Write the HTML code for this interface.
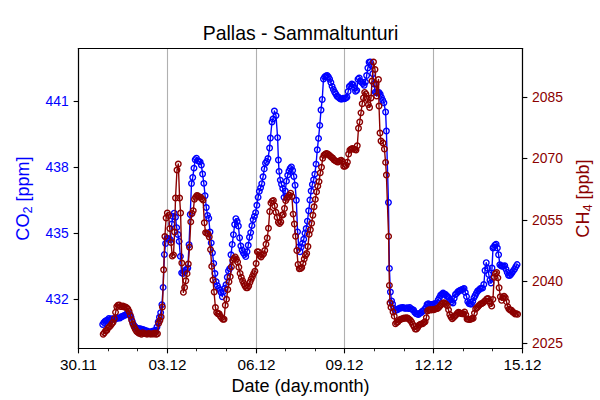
<!DOCTYPE html>
<html><head><meta charset="utf-8"><title>Pallas - Sammaltunturi</title>
<style>html,body{margin:0;padding:0;background:#fff;font-family:"Liberation Sans",sans-serif;}svg{display:block;}</style>
</head><body>
<svg width="600" height="400" viewBox="0 0 432 288">
 <defs>
  <style type="text/css">*{stroke-linejoin: round; stroke-linecap: butt}</style>
 </defs>
 <g id="figure_1">
  <g id="patch_1">
   <path d="M 0 288 
L 432 288 
L 432 0 
L 0 0 
z
" style="fill: #ffffff"/>
  </g>
  <g id="axes_1">
   <g id="patch_2">
    <path d="M 56.52 250.92 
L 376.2 250.92 
L 376.2 34.92 
L 56.52 34.92 
z
" style="fill: #ffffff"/>
   </g>
   <g id="matplotlib.axis_1">
    <g id="xtick_1">
     <g id="line2d_1">
      <path d="M 56.52 250.92 
L 56.52 34.92 
" clip-path="url(#p01f3dd01d7)" style="fill: none; stroke: #b0b0b0; stroke-width: 0.8; stroke-linecap: square"/>
     </g>
     <g id="line2d_2">
      <defs>
       <path id="m1504cfccaf" d="M 0 0 
L 0 3.5 
" style="stroke: #000000; stroke-width: 0.8"/>
      </defs>
      <g>
       <use href="#m1504cfccaf" x="56.52" y="250.92" style="stroke: #000000; stroke-width: 0.8"/>
      </g>
     </g>
     <g id="text_1">
      <!-- 30.11 -->
      <text x="56.52" y="266.28" font-size="11" text-anchor="middle" fill="#000000" style="font-family: 'Liberation Sans', sans-serif">30.11</text>
     </g>
    </g>
    <g id="xtick_2">
     <g id="line2d_3">
      <path d="M 120.6 250.92 
L 120.6 34.92 
" clip-path="url(#p01f3dd01d7)" style="fill: none; stroke: #b0b0b0; stroke-width: 0.8; stroke-linecap: square"/>
     </g>
     <g id="line2d_4">
      <g>
       <use href="#m1504cfccaf" x="120.6" y="250.92" style="stroke: #000000; stroke-width: 0.8"/>
      </g>
     </g>
     <g id="text_2">
      <!-- 03.12 -->
      <text x="120.6" y="266.28" font-size="11" text-anchor="middle" fill="#000000" style="font-family: 'Liberation Sans', sans-serif">03.12</text>
     </g>
    </g>
    <g id="xtick_3">
     <g id="line2d_5">
      <path d="M 184.68 250.92 
L 184.68 34.92 
" clip-path="url(#p01f3dd01d7)" style="fill: none; stroke: #b0b0b0; stroke-width: 0.8; stroke-linecap: square"/>
     </g>
     <g id="line2d_6">
      <g>
       <use href="#m1504cfccaf" x="184.68" y="250.92" style="stroke: #000000; stroke-width: 0.8"/>
      </g>
     </g>
     <g id="text_3">
      <!-- 06.12 -->
      <text x="184.68" y="266.28" font-size="11" text-anchor="middle" fill="#000000" style="font-family: 'Liberation Sans', sans-serif">06.12</text>
     </g>
    </g>
    <g id="xtick_4">
     <g id="line2d_7">
      <path d="M 248.04 250.92 
L 248.04 34.92 
" clip-path="url(#p01f3dd01d7)" style="fill: none; stroke: #b0b0b0; stroke-width: 0.8; stroke-linecap: square"/>
     </g>
     <g id="line2d_8">
      <g>
       <use href="#m1504cfccaf" x="248.04" y="250.92" style="stroke: #000000; stroke-width: 0.8"/>
      </g>
     </g>
     <g id="text_4">
      <!-- 09.12 -->
      <text x="248.04" y="266.28" font-size="11" text-anchor="middle" fill="#000000" style="font-family: 'Liberation Sans', sans-serif">09.12</text>
     </g>
    </g>
    <g id="xtick_5">
     <g id="line2d_9">
      <path d="M 312.12 250.92 
L 312.12 34.92 
" clip-path="url(#p01f3dd01d7)" style="fill: none; stroke: #b0b0b0; stroke-width: 0.8; stroke-linecap: square"/>
     </g>
     <g id="line2d_10">
      <g>
       <use href="#m1504cfccaf" x="312.12" y="250.92" style="stroke: #000000; stroke-width: 0.8"/>
      </g>
     </g>
     <g id="text_5">
      <!-- 12.12 -->
      <text x="312.12" y="266.28" font-size="11" text-anchor="middle" fill="#000000" style="font-family: 'Liberation Sans', sans-serif">12.12</text>
     </g>
    </g>
    <g id="xtick_6">
     <g id="line2d_11">
      <path d="M 376.2 250.92 
L 376.2 34.92 
" clip-path="url(#p01f3dd01d7)" style="fill: none; stroke: #b0b0b0; stroke-width: 0.8; stroke-linecap: square"/>
     </g>
     <g id="line2d_12">
      <g>
       <use href="#m1504cfccaf" x="376.2" y="250.92" style="stroke: #000000; stroke-width: 0.8"/>
      </g>
     </g>
     <g id="text_6">
      <!-- 15.12 -->
      <text x="376.2" y="266.28" font-size="11" text-anchor="middle" fill="#000000" style="font-family: 'Liberation Sans', sans-serif">15.12</text>
     </g>
    </g>
    <g id="xtick_7">
     <g id="line2d_13">
      <defs>
       <path id="m05db3bdf9b" d="M 0 0 
L 0 2 
" style="stroke: #000000; stroke-width: 0.6"/>
      </defs>
      <g>
       <use href="#m05db3bdf9b" x="78.12" y="250.92" style="stroke: #000000; stroke-width: 0.6"/>
      </g>
     </g>
    </g>
    <g id="xtick_8">
     <g id="line2d_14">
      <g>
       <use href="#m05db3bdf9b" x="99" y="250.92" style="stroke: #000000; stroke-width: 0.6"/>
      </g>
     </g>
    </g>
    <g id="xtick_9">
     <g id="line2d_15">
      <g>
       <use href="#m05db3bdf9b" x="141.48" y="250.92" style="stroke: #000000; stroke-width: 0.6"/>
      </g>
     </g>
    </g>
    <g id="xtick_10">
     <g id="line2d_16">
      <g>
       <use href="#m05db3bdf9b" x="163.08" y="250.92" style="stroke: #000000; stroke-width: 0.6"/>
      </g>
     </g>
    </g>
    <g id="xtick_11">
     <g id="line2d_17">
      <g>
       <use href="#m05db3bdf9b" x="205.56" y="250.92" style="stroke: #000000; stroke-width: 0.6"/>
      </g>
     </g>
    </g>
    <g id="xtick_12">
     <g id="line2d_18">
      <g>
       <use href="#m05db3bdf9b" x="227.16" y="250.92" style="stroke: #000000; stroke-width: 0.6"/>
      </g>
     </g>
    </g>
    <g id="xtick_13">
     <g id="line2d_19">
      <g>
       <use href="#m05db3bdf9b" x="269.64" y="250.92" style="stroke: #000000; stroke-width: 0.6"/>
      </g>
     </g>
    </g>
    <g id="xtick_14">
     <g id="line2d_20">
      <g>
       <use href="#m05db3bdf9b" x="291.24" y="250.92" style="stroke: #000000; stroke-width: 0.6"/>
      </g>
     </g>
    </g>
    <g id="xtick_15">
     <g id="line2d_21">
      <g>
       <use href="#m05db3bdf9b" x="333.72" y="250.92" style="stroke: #000000; stroke-width: 0.6"/>
      </g>
     </g>
    </g>
    <g id="xtick_16">
     <g id="line2d_22">
      <g>
       <use href="#m05db3bdf9b" x="354.6" y="250.92" style="stroke: #000000; stroke-width: 0.6"/>
      </g>
     </g>
    </g>
    <g id="text_7">
     <!-- Date (day.month) -->
     <text x="216.36" y="282.44" font-size="13" text-anchor="middle" fill="#000000" style="font-family: 'Liberation Sans', sans-serif">Date (day.month)</text>
    </g>
   </g>
   <g id="matplotlib.axis_2">
    <g id="ytick_1">
     <g id="line2d_23">
      <defs>
       <path id="m5d545ce8f8" d="M 0 0 
L -3.5 0 
" style="stroke: #000000; stroke-width: 0.8"/>
      </defs>
      <g>
       <use href="#m5d545ce8f8" x="56.52" y="73.08" style="stroke: #000000; stroke-width: 0.8"/>
      </g>
     </g>
     <g id="text_8">
      <!-- 441 -->
      <text x="49.5" y="76.38" font-size="10" text-anchor="end" fill="#0000ff" style="font-family: 'Liberation Sans', sans-serif">441</text>
     </g>
    </g>
    <g id="ytick_2">
     <g id="line2d_24">
      <g>
       <use href="#m5d545ce8f8" x="56.52" y="120.6" style="stroke: #000000; stroke-width: 0.8"/>
      </g>
     </g>
     <g id="text_9">
      <!-- 438 -->
      <text x="49.5" y="123.9" font-size="10" text-anchor="end" fill="#0000ff" style="font-family: 'Liberation Sans', sans-serif">438</text>
     </g>
    </g>
    <g id="ytick_3">
     <g id="line2d_25">
      <g>
       <use href="#m5d545ce8f8" x="56.52" y="168.12" style="stroke: #000000; stroke-width: 0.8"/>
      </g>
     </g>
     <g id="text_10">
      <!-- 435 -->
      <text x="49.5" y="171.42" font-size="10" text-anchor="end" fill="#0000ff" style="font-family: 'Liberation Sans', sans-serif">435</text>
     </g>
    </g>
    <g id="ytick_4">
     <g id="line2d_26">
      <g>
       <use href="#m5d545ce8f8" x="56.52" y="215.64" style="stroke: #000000; stroke-width: 0.8"/>
      </g>
     </g>
     <g id="text_11">
      <!-- 432 -->
      <text x="49.5" y="218.94" font-size="10" text-anchor="end" fill="#0000ff" style="font-family: 'Liberation Sans', sans-serif">432</text>
     </g>
    </g>
    <g id="text_12">
     <!-- CO$_2$ [ppm] -->
     <text transform="translate(21.18 142.92) rotate(-90)" font-size="13" text-anchor="middle" fill="#0000ff" style="font-family: 'Liberation Sans', sans-serif">CO<tspan font-size="9.1" dy="2.1">2</tspan><tspan dy="-2.1"> [ppm]</tspan></text>
    </g>
   </g>
   <g id="line2d_27">
    <path d="M 73.944 233.588679 
L 74.832 232.197612 
L 75.72 231.303568 
L 76.608 230.669792 
L 77.496 230.575798 
L 78.384 229.353021 
L 79.272 230.213991 
L 80.16 229.551011 
L 81.048 229.774244 
L 81.936 229.547198 
L 82.824 229.852134 
L 83.712 228.890279 
L 84.6 229.141307 
L 85.488 228.874288 
L 86.376 228.968298 
L 87.264 228.098991 
L 88.152 227.850858 
L 89.04 227.242857 
L 89.928 226.989841 
L 90.816 226.511313 
L 91.704 225.540983 
L 92.592 225.854555 
L 93.48 226.42544 
L 94.368 228.501899 
L 95.256 231.485896 
L 96.144 233.758776 
L 97.032 235.027683 
L 97.92 235.969443 
L 99.696 236.875734 
L 100.584 236.763629 
L 102.36 237.169814 
L 104.136 237.813094 
L 105.024 238.282521 
L 105.912 238.256516 
L 107.688 239.367609 
L 108.576 239.105248 
L 110.352 238.358579 
L 111.24 238.235039 
L 112.128 237.671823 
L 113.016 235.41536 
L 115.68 225.08933 
L 116.568 219.391504 
L 117.456 206.933919 
L 118.344 183.307961 
L 119.232 175.361757 
L 120.12 171.661859 
L 121.008 171.660853 
L 122.784 172.683784 
L 123.672 161.262915 
L 124.56 155.861125 
L 125.448 153.458075 
L 126.336 156.368049 
L 127.224 163.906621 
L 129 173.795063 
L 130.776 196.455886 
L 131.664 196.943556 
L 133.44 194.532482 
L 134.328 194.106971 
L 135.216 192.96677 
L 136.104 176.171582 
L 137.88 132.127297 
L 138.768 127.756852 
L 140.544 114.967827 
L 141.432 113.88485 
L 142.32 115.655146 
L 143.208 116.186116 
L 144.096 116.562864 
L 144.984 118.880398 
L 146.76 132.012933 
L 148.536 149.390733 
L 149.424 155.052862 
L 150.312 157.204167 
L 151.2 167.063944 
L 153.864 189.661792 
L 154.752 196.910429 
L 155.64 202.762171 
L 156.528 205.686712 
L 157.416 207.620972 
L 159.192 210.623164 
L 160.08 213.609939 
L 160.968 209.971936 
L 162.744 205.007467 
L 163.632 199.65121 
L 164.52 195.169698 
L 165.408 193.394478 
L 166.296 183.427026 
L 168.96 161.677649 
L 169.848 157.458453 
L 170.736 159.537115 
L 171.624 162.747631 
L 172.512 171.239373 
L 173.4 177.145293 
L 174.288 179.97652 
L 175.176 181.928353 
L 176.064 183.234439 
L 176.952 184.780726 
L 177.84 181.270392 
L 178.728 176.597147 
L 179.616 170.860869 
L 180.504 167.487416 
L 181.392 162.452392 
L 182.28 158.261986 
L 184.056 153.099028 
L 185.832 142.086044 
L 186.72 137.786845 
L 187.608 135.264355 
L 188.496 132.263233 
L 189.384 127.293966 
L 190.272 121.609778 
L 191.16 117.594202 
L 192.048 116.331994 
L 192.936 114.169005 
L 194.112 106.56 
L 194.688 99.36 
L 195.84 87.84 
L 196.56 85.68 
L 197.568 79.92 
L 198.72 83.232 
L 199.872 99.072 
L 200.448 115.2 
L 200.928 123.395236 
L 201.816 129.679138 
L 203.592 135.747581 
L 204.48 142.103684 
L 205.368 137.547764 
L 206.256 130.413131 
L 207.144 126.107497 
L 208.032 123.265649 
L 208.92 121.358631 
L 209.808 120.191247 
L 210.696 122.730354 
L 211.584 127.108704 
L 212.472 133.335148 
L 213.36 144.187506 
L 214.248 166.944654 
L 215.136 177.901649 
L 216.024 181.22048 
L 216.912 177.897013 
L 218.688 172.286515 
L 219.576 167.933847 
L 220.464 164.502204 
L 221.352 159.232973 
L 224.016 137.497124 
L 224.904 132.796378 
L 225.792 129.410714 
L 226.68 125.381457 
L 227.568 118.184028 
L 228.456 107.858663 
L 229.344 99.644345 
L 230.232 90.2769 
L 231.12 79.182544 
L 232.008 71.603884 
L 232.896 56.824955 
L 233.784 55.38477 
L 234.672 54.663372 
L 235.56 54.271134 
L 236.448 55.418889 
L 237.336 57.033833 
L 238.224 59.388043 
L 239.112 62.177967 
L 240.888 66.245119 
L 241.776 67.667687 
L 242.664 69.353196 
L 243.552 69.88001 
L 244.44 70.861816 
L 245.328 71.385514 
L 246.216 71.357579 
L 247.104 70.686709 
L 247.992 71.110485 
L 248.88 70.649609 
L 249.768 70.006855 
L 250.656 65.87595 
L 251.544 62.317322 
L 252.432 61.64773 
L 253.32 60.47427 
L 254.208 61.072918 
L 255.096 63.158837 
L 255.984 65.695937 
L 256.872 65.066134 
L 257.76 57.014972 
L 258.648 56.154463 
L 259.536 58.460524 
L 261.312 60.138693 
L 262.2 61.416859 
L 263.088 59.025638 
L 263.976 54.413879 
L 264.864 48.929777 
L 265.752 44.841623 
L 266.64 44.601723 
L 267.528 47.438783 
L 268.416 53.074162 
L 269.304 60.450068 
L 270.192 66.340631 
L 271.08 66.826584 
L 272.856 66.539462 
L 273.744 67.803172 
L 275.52 72.12956 
L 276.408 73.926476 
L 277.632 80.64 
L 278.208 94.32 
L 279.684 145.764 
L 280.368 193.248 
L 281.088 210.24 
L 281.952 216.72 
L 283.512 221.85334 
L 284.4 223.78376 
L 285.288 223.02966 
L 286.176 223.030593 
L 287.064 222.215202 
L 287.952 221.717222 
L 288.84 221.759526 
L 289.728 221.408052 
L 290.616 221.542948 
L 291.504 221.930027 
L 292.392 221.915872 
L 293.28 221.648321 
L 294.168 222.216255 
L 295.056 221.4593 
L 296.832 222.936513 
L 297.72 223.09365 
L 298.608 224.919985 
L 299.496 225.68924 
L 300.384 226.187897 
L 301.272 226.416762 
L 302.16 225.631505 
L 303.048 225.128872 
L 303.936 224.262852 
L 304.824 223.743852 
L 305.712 222.777977 
L 306.6 221.577961 
L 307.488 219.235725 
L 308.376 218.716406 
L 309.264 219.217289 
L 311.04 219.214475 
L 311.928 219.106159 
L 312.816 218.758583 
L 313.704 218.679864 
L 314.592 218.106494 
L 315.48 216.027575 
L 317.256 212.634743 
L 319.032 210.996367 
L 319.92 211.835611 
L 320.808 212.03631 
L 321.696 213.247185 
L 322.584 213.720739 
L 326.136 218.142143 
L 327.024 214.730328 
L 327.912 212.090616 
L 328.8 211.234347 
L 329.688 210.094218 
L 331.464 208.987115 
L 334.128 207.741773 
L 335.904 213.540567 
L 336.792 217.185944 
L 337.68 218.547599 
L 338.568 218.915041 
L 339.456 218.921109 
L 340.344 217.050222 
L 341.232 214.447682 
L 343.896 209.573002 
L 344.784 208.912983 
L 345.672 207.848889 
L 346.56 207.462446 
L 347.448 207.458265 
L 348.336 204.847979 
L 349.224 194.714241 
L 350.112 189.128842 
L 351.888 197.585514 
L 352.776 201.738343 
L 353.52 203.76 
L 354.24 192.96 
L 354.96 178.56 
L 356.328 176.59849 
L 357.216 175.802369 
L 358.104 178.61687 
L 358.992 183.38936 
L 359.88 190.590156 
L 360.768 191.340871 
L 361.656 191.676513 
L 362.544 191.760943 
L 363.432 191.389678 
L 365.208 196.141172 
L 366.096 198.168521 
L 366.984 198.315889 
L 367.872 197.543321 
L 371.424 191.986932 
L 372.312 190.503751 
L 372.312 190.503751 
" clip-path="url(#p01f3dd01d7)" style="fill: none; stroke: #0000ff; stroke-linecap: square"/>
    <defs>
     <path id="m92db724457" d="M 0 2 
C 0.530406 2 1.03916 1.789267 1.414214 1.414214 
C 1.789267 1.03916 2 0.530406 2 0 
C 2 -0.530406 1.789267 -1.03916 1.414214 -1.414214 
C 1.03916 -1.789267 0.530406 -2 0 -2 
C -0.530406 -2 -1.03916 -1.789267 -1.414214 -1.414214 
C -1.789267 -1.03916 -2 -0.530406 -2 0 
C -2 0.530406 -1.789267 1.03916 -1.414214 1.414214 
C -1.03916 1.789267 -0.530406 2 0 2 
z
" style="stroke: #0000ff"/>
    </defs>
    <g clip-path="url(#p01f3dd01d7)">
     <use href="#m92db724457" x="73.944" y="233.588679" style="fill-opacity: 0; stroke: #0000ff"/>
     <use href="#m92db724457" x="74.832" y="232.197612" style="fill-opacity: 0; stroke: #0000ff"/>
     <use href="#m92db724457" x="75.72" y="231.303568" style="fill-opacity: 0; stroke: #0000ff"/>
     <use href="#m92db724457" x="76.608" y="230.669792" style="fill-opacity: 0; stroke: #0000ff"/>
     <use href="#m92db724457" x="77.496" y="230.575798" style="fill-opacity: 0; stroke: #0000ff"/>
     <use href="#m92db724457" x="78.384" y="229.353021" style="fill-opacity: 0; stroke: #0000ff"/>
     <use href="#m92db724457" x="79.272" y="230.213991" style="fill-opacity: 0; stroke: #0000ff"/>
     <use href="#m92db724457" x="80.16" y="229.551011" style="fill-opacity: 0; stroke: #0000ff"/>
     <use href="#m92db724457" x="81.048" y="229.774244" style="fill-opacity: 0; stroke: #0000ff"/>
     <use href="#m92db724457" x="81.936" y="229.547198" style="fill-opacity: 0; stroke: #0000ff"/>
     <use href="#m92db724457" x="82.824" y="229.852134" style="fill-opacity: 0; stroke: #0000ff"/>
     <use href="#m92db724457" x="83.712" y="228.890279" style="fill-opacity: 0; stroke: #0000ff"/>
     <use href="#m92db724457" x="84.6" y="229.141307" style="fill-opacity: 0; stroke: #0000ff"/>
     <use href="#m92db724457" x="85.488" y="228.874288" style="fill-opacity: 0; stroke: #0000ff"/>
     <use href="#m92db724457" x="86.376" y="228.968298" style="fill-opacity: 0; stroke: #0000ff"/>
     <use href="#m92db724457" x="87.264" y="228.098991" style="fill-opacity: 0; stroke: #0000ff"/>
     <use href="#m92db724457" x="88.152" y="227.850858" style="fill-opacity: 0; stroke: #0000ff"/>
     <use href="#m92db724457" x="89.04" y="227.242857" style="fill-opacity: 0; stroke: #0000ff"/>
     <use href="#m92db724457" x="89.928" y="226.989841" style="fill-opacity: 0; stroke: #0000ff"/>
     <use href="#m92db724457" x="90.816" y="226.511313" style="fill-opacity: 0; stroke: #0000ff"/>
     <use href="#m92db724457" x="91.704" y="225.540983" style="fill-opacity: 0; stroke: #0000ff"/>
     <use href="#m92db724457" x="92.592" y="225.854555" style="fill-opacity: 0; stroke: #0000ff"/>
     <use href="#m92db724457" x="93.48" y="226.42544" style="fill-opacity: 0; stroke: #0000ff"/>
     <use href="#m92db724457" x="94.368" y="228.501899" style="fill-opacity: 0; stroke: #0000ff"/>
     <use href="#m92db724457" x="95.256" y="231.485896" style="fill-opacity: 0; stroke: #0000ff"/>
     <use href="#m92db724457" x="96.144" y="233.758776" style="fill-opacity: 0; stroke: #0000ff"/>
     <use href="#m92db724457" x="97.032" y="235.027683" style="fill-opacity: 0; stroke: #0000ff"/>
     <use href="#m92db724457" x="97.92" y="235.969443" style="fill-opacity: 0; stroke: #0000ff"/>
     <use href="#m92db724457" x="98.808" y="236.394629" style="fill-opacity: 0; stroke: #0000ff"/>
     <use href="#m92db724457" x="99.696" y="236.875734" style="fill-opacity: 0; stroke: #0000ff"/>
     <use href="#m92db724457" x="100.584" y="236.763629" style="fill-opacity: 0; stroke: #0000ff"/>
     <use href="#m92db724457" x="101.472" y="236.925487" style="fill-opacity: 0; stroke: #0000ff"/>
     <use href="#m92db724457" x="102.36" y="237.169814" style="fill-opacity: 0; stroke: #0000ff"/>
     <use href="#m92db724457" x="103.248" y="237.453849" style="fill-opacity: 0; stroke: #0000ff"/>
     <use href="#m92db724457" x="104.136" y="237.813094" style="fill-opacity: 0; stroke: #0000ff"/>
     <use href="#m92db724457" x="105.024" y="238.282521" style="fill-opacity: 0; stroke: #0000ff"/>
     <use href="#m92db724457" x="105.912" y="238.256516" style="fill-opacity: 0; stroke: #0000ff"/>
     <use href="#m92db724457" x="106.8" y="238.794951" style="fill-opacity: 0; stroke: #0000ff"/>
     <use href="#m92db724457" x="107.688" y="239.367609" style="fill-opacity: 0; stroke: #0000ff"/>
     <use href="#m92db724457" x="108.576" y="239.105248" style="fill-opacity: 0; stroke: #0000ff"/>
     <use href="#m92db724457" x="109.464" y="238.701594" style="fill-opacity: 0; stroke: #0000ff"/>
     <use href="#m92db724457" x="110.352" y="238.358579" style="fill-opacity: 0; stroke: #0000ff"/>
     <use href="#m92db724457" x="111.24" y="238.235039" style="fill-opacity: 0; stroke: #0000ff"/>
     <use href="#m92db724457" x="112.128" y="237.671823" style="fill-opacity: 0; stroke: #0000ff"/>
     <use href="#m92db724457" x="113.016" y="235.41536" style="fill-opacity: 0; stroke: #0000ff"/>
     <use href="#m92db724457" x="113.904" y="231.860228" style="fill-opacity: 0; stroke: #0000ff"/>
     <use href="#m92db724457" x="114.792" y="228.453953" style="fill-opacity: 0; stroke: #0000ff"/>
     <use href="#m92db724457" x="115.68" y="225.08933" style="fill-opacity: 0; stroke: #0000ff"/>
     <use href="#m92db724457" x="116.568" y="219.391504" style="fill-opacity: 0; stroke: #0000ff"/>
     <use href="#m92db724457" x="117.456" y="206.933919" style="fill-opacity: 0; stroke: #0000ff"/>
     <use href="#m92db724457" x="118.344" y="183.307961" style="fill-opacity: 0; stroke: #0000ff"/>
     <use href="#m92db724457" x="119.232" y="175.361757" style="fill-opacity: 0; stroke: #0000ff"/>
     <use href="#m92db724457" x="120.12" y="171.661859" style="fill-opacity: 0; stroke: #0000ff"/>
     <use href="#m92db724457" x="121.008" y="171.660853" style="fill-opacity: 0; stroke: #0000ff"/>
     <use href="#m92db724457" x="121.896" y="172.142225" style="fill-opacity: 0; stroke: #0000ff"/>
     <use href="#m92db724457" x="122.784" y="172.683784" style="fill-opacity: 0; stroke: #0000ff"/>
     <use href="#m92db724457" x="123.672" y="161.262915" style="fill-opacity: 0; stroke: #0000ff"/>
     <use href="#m92db724457" x="124.56" y="155.861125" style="fill-opacity: 0; stroke: #0000ff"/>
     <use href="#m92db724457" x="125.448" y="153.458075" style="fill-opacity: 0; stroke: #0000ff"/>
     <use href="#m92db724457" x="126.336" y="156.368049" style="fill-opacity: 0; stroke: #0000ff"/>
     <use href="#m92db724457" x="127.224" y="163.906621" style="fill-opacity: 0; stroke: #0000ff"/>
     <use href="#m92db724457" x="128.112" y="168.822959" style="fill-opacity: 0; stroke: #0000ff"/>
     <use href="#m92db724457" x="129" y="173.795063" style="fill-opacity: 0; stroke: #0000ff"/>
     <use href="#m92db724457" x="129.888" y="184.592438" style="fill-opacity: 0; stroke: #0000ff"/>
     <use href="#m92db724457" x="130.776" y="196.455886" style="fill-opacity: 0; stroke: #0000ff"/>
     <use href="#m92db724457" x="131.664" y="196.943556" style="fill-opacity: 0; stroke: #0000ff"/>
     <use href="#m92db724457" x="132.552" y="195.675395" style="fill-opacity: 0; stroke: #0000ff"/>
     <use href="#m92db724457" x="133.44" y="194.532482" style="fill-opacity: 0; stroke: #0000ff"/>
     <use href="#m92db724457" x="134.328" y="194.106971" style="fill-opacity: 0; stroke: #0000ff"/>
     <use href="#m92db724457" x="135.216" y="192.96677" style="fill-opacity: 0; stroke: #0000ff"/>
     <use href="#m92db724457" x="136.104" y="176.171582" style="fill-opacity: 0; stroke: #0000ff"/>
     <use href="#m92db724457" x="136.992" y="154.464954" style="fill-opacity: 0; stroke: #0000ff"/>
     <use href="#m92db724457" x="137.88" y="132.127297" style="fill-opacity: 0; stroke: #0000ff"/>
     <use href="#m92db724457" x="138.768" y="127.756852" style="fill-opacity: 0; stroke: #0000ff"/>
     <use href="#m92db724457" x="139.656" y="121.057591" style="fill-opacity: 0; stroke: #0000ff"/>
     <use href="#m92db724457" x="140.544" y="114.967827" style="fill-opacity: 0; stroke: #0000ff"/>
     <use href="#m92db724457" x="141.432" y="113.88485" style="fill-opacity: 0; stroke: #0000ff"/>
     <use href="#m92db724457" x="142.32" y="115.655146" style="fill-opacity: 0; stroke: #0000ff"/>
     <use href="#m92db724457" x="143.208" y="116.186116" style="fill-opacity: 0; stroke: #0000ff"/>
     <use href="#m92db724457" x="144.096" y="116.562864" style="fill-opacity: 0; stroke: #0000ff"/>
     <use href="#m92db724457" x="144.984" y="118.880398" style="fill-opacity: 0; stroke: #0000ff"/>
     <use href="#m92db724457" x="145.872" y="125.264251" style="fill-opacity: 0; stroke: #0000ff"/>
     <use href="#m92db724457" x="146.76" y="132.012933" style="fill-opacity: 0; stroke: #0000ff"/>
     <use href="#m92db724457" x="147.648" y="140.906259" style="fill-opacity: 0; stroke: #0000ff"/>
     <use href="#m92db724457" x="148.536" y="149.390733" style="fill-opacity: 0; stroke: #0000ff"/>
     <use href="#m92db724457" x="149.424" y="155.052862" style="fill-opacity: 0; stroke: #0000ff"/>
     <use href="#m92db724457" x="150.312" y="157.204167" style="fill-opacity: 0; stroke: #0000ff"/>
     <use href="#m92db724457" x="151.2" y="167.063944" style="fill-opacity: 0; stroke: #0000ff"/>
     <use href="#m92db724457" x="152.088" y="174.872717" style="fill-opacity: 0; stroke: #0000ff"/>
     <use href="#m92db724457" x="152.976" y="182.04967" style="fill-opacity: 0; stroke: #0000ff"/>
     <use href="#m92db724457" x="153.864" y="189.661792" style="fill-opacity: 0; stroke: #0000ff"/>
     <use href="#m92db724457" x="154.752" y="196.910429" style="fill-opacity: 0; stroke: #0000ff"/>
     <use href="#m92db724457" x="155.64" y="202.762171" style="fill-opacity: 0; stroke: #0000ff"/>
     <use href="#m92db724457" x="156.528" y="205.686712" style="fill-opacity: 0; stroke: #0000ff"/>
     <use href="#m92db724457" x="157.416" y="207.620972" style="fill-opacity: 0; stroke: #0000ff"/>
     <use href="#m92db724457" x="158.304" y="209.028763" style="fill-opacity: 0; stroke: #0000ff"/>
     <use href="#m92db724457" x="159.192" y="210.623164" style="fill-opacity: 0; stroke: #0000ff"/>
     <use href="#m92db724457" x="160.08" y="213.609939" style="fill-opacity: 0; stroke: #0000ff"/>
     <use href="#m92db724457" x="160.968" y="209.971936" style="fill-opacity: 0; stroke: #0000ff"/>
     <use href="#m92db724457" x="161.856" y="207.455432" style="fill-opacity: 0; stroke: #0000ff"/>
     <use href="#m92db724457" x="162.744" y="205.007467" style="fill-opacity: 0; stroke: #0000ff"/>
     <use href="#m92db724457" x="163.632" y="199.65121" style="fill-opacity: 0; stroke: #0000ff"/>
     <use href="#m92db724457" x="164.52" y="195.169698" style="fill-opacity: 0; stroke: #0000ff"/>
     <use href="#m92db724457" x="165.408" y="193.394478" style="fill-opacity: 0; stroke: #0000ff"/>
     <use href="#m92db724457" x="166.296" y="183.427026" style="fill-opacity: 0; stroke: #0000ff"/>
     <use href="#m92db724457" x="167.184" y="175.980295" style="fill-opacity: 0; stroke: #0000ff"/>
     <use href="#m92db724457" x="168.072" y="168.918888" style="fill-opacity: 0; stroke: #0000ff"/>
     <use href="#m92db724457" x="168.96" y="161.677649" style="fill-opacity: 0; stroke: #0000ff"/>
     <use href="#m92db724457" x="169.848" y="157.458453" style="fill-opacity: 0; stroke: #0000ff"/>
     <use href="#m92db724457" x="170.736" y="159.537115" style="fill-opacity: 0; stroke: #0000ff"/>
     <use href="#m92db724457" x="171.624" y="162.747631" style="fill-opacity: 0; stroke: #0000ff"/>
     <use href="#m92db724457" x="172.512" y="171.239373" style="fill-opacity: 0; stroke: #0000ff"/>
     <use href="#m92db724457" x="173.4" y="177.145293" style="fill-opacity: 0; stroke: #0000ff"/>
     <use href="#m92db724457" x="174.288" y="179.97652" style="fill-opacity: 0; stroke: #0000ff"/>
     <use href="#m92db724457" x="175.176" y="181.928353" style="fill-opacity: 0; stroke: #0000ff"/>
     <use href="#m92db724457" x="176.064" y="183.234439" style="fill-opacity: 0; stroke: #0000ff"/>
     <use href="#m92db724457" x="176.952" y="184.780726" style="fill-opacity: 0; stroke: #0000ff"/>
     <use href="#m92db724457" x="177.84" y="181.270392" style="fill-opacity: 0; stroke: #0000ff"/>
     <use href="#m92db724457" x="178.728" y="176.597147" style="fill-opacity: 0; stroke: #0000ff"/>
     <use href="#m92db724457" x="179.616" y="170.860869" style="fill-opacity: 0; stroke: #0000ff"/>
     <use href="#m92db724457" x="180.504" y="167.487416" style="fill-opacity: 0; stroke: #0000ff"/>
     <use href="#m92db724457" x="181.392" y="162.452392" style="fill-opacity: 0; stroke: #0000ff"/>
     <use href="#m92db724457" x="182.28" y="158.261986" style="fill-opacity: 0; stroke: #0000ff"/>
     <use href="#m92db724457" x="183.168" y="155.793368" style="fill-opacity: 0; stroke: #0000ff"/>
     <use href="#m92db724457" x="184.056" y="153.099028" style="fill-opacity: 0; stroke: #0000ff"/>
     <use href="#m92db724457" x="184.944" y="147.754676" style="fill-opacity: 0; stroke: #0000ff"/>
     <use href="#m92db724457" x="185.832" y="142.086044" style="fill-opacity: 0; stroke: #0000ff"/>
     <use href="#m92db724457" x="186.72" y="137.786845" style="fill-opacity: 0; stroke: #0000ff"/>
     <use href="#m92db724457" x="187.608" y="135.264355" style="fill-opacity: 0; stroke: #0000ff"/>
     <use href="#m92db724457" x="188.496" y="132.263233" style="fill-opacity: 0; stroke: #0000ff"/>
     <use href="#m92db724457" x="189.384" y="127.293966" style="fill-opacity: 0; stroke: #0000ff"/>
     <use href="#m92db724457" x="190.272" y="121.609778" style="fill-opacity: 0; stroke: #0000ff"/>
     <use href="#m92db724457" x="191.16" y="117.594202" style="fill-opacity: 0; stroke: #0000ff"/>
     <use href="#m92db724457" x="192.048" y="116.331994" style="fill-opacity: 0; stroke: #0000ff"/>
     <use href="#m92db724457" x="192.936" y="114.169005" style="fill-opacity: 0; stroke: #0000ff"/>
     <use href="#m92db724457" x="194.112" y="106.56" style="fill-opacity: 0; stroke: #0000ff"/>
     <use href="#m92db724457" x="194.688" y="99.36" style="fill-opacity: 0; stroke: #0000ff"/>
     <use href="#m92db724457" x="195.84" y="87.84" style="fill-opacity: 0; stroke: #0000ff"/>
     <use href="#m92db724457" x="196.56" y="85.68" style="fill-opacity: 0; stroke: #0000ff"/>
     <use href="#m92db724457" x="197.568" y="79.92" style="fill-opacity: 0; stroke: #0000ff"/>
     <use href="#m92db724457" x="198.72" y="83.232" style="fill-opacity: 0; stroke: #0000ff"/>
     <use href="#m92db724457" x="199.872" y="99.072" style="fill-opacity: 0; stroke: #0000ff"/>
     <use href="#m92db724457" x="200.448" y="115.2" style="fill-opacity: 0; stroke: #0000ff"/>
     <use href="#m92db724457" x="200.928" y="123.395236" style="fill-opacity: 0; stroke: #0000ff"/>
     <use href="#m92db724457" x="201.816" y="129.679138" style="fill-opacity: 0; stroke: #0000ff"/>
     <use href="#m92db724457" x="202.704" y="132.606786" style="fill-opacity: 0; stroke: #0000ff"/>
     <use href="#m92db724457" x="203.592" y="135.747581" style="fill-opacity: 0; stroke: #0000ff"/>
     <use href="#m92db724457" x="204.48" y="142.103684" style="fill-opacity: 0; stroke: #0000ff"/>
     <use href="#m92db724457" x="205.368" y="137.547764" style="fill-opacity: 0; stroke: #0000ff"/>
     <use href="#m92db724457" x="206.256" y="130.413131" style="fill-opacity: 0; stroke: #0000ff"/>
     <use href="#m92db724457" x="207.144" y="126.107497" style="fill-opacity: 0; stroke: #0000ff"/>
     <use href="#m92db724457" x="208.032" y="123.265649" style="fill-opacity: 0; stroke: #0000ff"/>
     <use href="#m92db724457" x="208.92" y="121.358631" style="fill-opacity: 0; stroke: #0000ff"/>
     <use href="#m92db724457" x="209.808" y="120.191247" style="fill-opacity: 0; stroke: #0000ff"/>
     <use href="#m92db724457" x="210.696" y="122.730354" style="fill-opacity: 0; stroke: #0000ff"/>
     <use href="#m92db724457" x="211.584" y="127.108704" style="fill-opacity: 0; stroke: #0000ff"/>
     <use href="#m92db724457" x="212.472" y="133.335148" style="fill-opacity: 0; stroke: #0000ff"/>
     <use href="#m92db724457" x="213.36" y="144.187506" style="fill-opacity: 0; stroke: #0000ff"/>
     <use href="#m92db724457" x="214.248" y="166.944654" style="fill-opacity: 0; stroke: #0000ff"/>
     <use href="#m92db724457" x="215.136" y="177.901649" style="fill-opacity: 0; stroke: #0000ff"/>
     <use href="#m92db724457" x="216.024" y="181.22048" style="fill-opacity: 0; stroke: #0000ff"/>
     <use href="#m92db724457" x="216.912" y="177.897013" style="fill-opacity: 0; stroke: #0000ff"/>
     <use href="#m92db724457" x="217.8" y="175.207942" style="fill-opacity: 0; stroke: #0000ff"/>
     <use href="#m92db724457" x="218.688" y="172.286515" style="fill-opacity: 0; stroke: #0000ff"/>
     <use href="#m92db724457" x="219.576" y="167.933847" style="fill-opacity: 0; stroke: #0000ff"/>
     <use href="#m92db724457" x="220.464" y="164.502204" style="fill-opacity: 0; stroke: #0000ff"/>
     <use href="#m92db724457" x="221.352" y="159.232973" style="fill-opacity: 0; stroke: #0000ff"/>
     <use href="#m92db724457" x="222.24" y="151.755043" style="fill-opacity: 0; stroke: #0000ff"/>
     <use href="#m92db724457" x="223.128" y="144.060584" style="fill-opacity: 0; stroke: #0000ff"/>
     <use href="#m92db724457" x="224.016" y="137.497124" style="fill-opacity: 0; stroke: #0000ff"/>
     <use href="#m92db724457" x="224.904" y="132.796378" style="fill-opacity: 0; stroke: #0000ff"/>
     <use href="#m92db724457" x="225.792" y="129.410714" style="fill-opacity: 0; stroke: #0000ff"/>
     <use href="#m92db724457" x="226.68" y="125.381457" style="fill-opacity: 0; stroke: #0000ff"/>
     <use href="#m92db724457" x="227.568" y="118.184028" style="fill-opacity: 0; stroke: #0000ff"/>
     <use href="#m92db724457" x="228.456" y="107.858663" style="fill-opacity: 0; stroke: #0000ff"/>
     <use href="#m92db724457" x="229.344" y="99.644345" style="fill-opacity: 0; stroke: #0000ff"/>
     <use href="#m92db724457" x="230.232" y="90.2769" style="fill-opacity: 0; stroke: #0000ff"/>
     <use href="#m92db724457" x="231.12" y="79.182544" style="fill-opacity: 0; stroke: #0000ff"/>
     <use href="#m92db724457" x="232.008" y="71.603884" style="fill-opacity: 0; stroke: #0000ff"/>
     <use href="#m92db724457" x="232.896" y="56.824955" style="fill-opacity: 0; stroke: #0000ff"/>
     <use href="#m92db724457" x="233.784" y="55.38477" style="fill-opacity: 0; stroke: #0000ff"/>
     <use href="#m92db724457" x="234.672" y="54.663372" style="fill-opacity: 0; stroke: #0000ff"/>
     <use href="#m92db724457" x="235.56" y="54.271134" style="fill-opacity: 0; stroke: #0000ff"/>
     <use href="#m92db724457" x="236.448" y="55.418889" style="fill-opacity: 0; stroke: #0000ff"/>
     <use href="#m92db724457" x="237.336" y="57.033833" style="fill-opacity: 0; stroke: #0000ff"/>
     <use href="#m92db724457" x="238.224" y="59.388043" style="fill-opacity: 0; stroke: #0000ff"/>
     <use href="#m92db724457" x="239.112" y="62.177967" style="fill-opacity: 0; stroke: #0000ff"/>
     <use href="#m92db724457" x="240" y="64.355842" style="fill-opacity: 0; stroke: #0000ff"/>
     <use href="#m92db724457" x="240.888" y="66.245119" style="fill-opacity: 0; stroke: #0000ff"/>
     <use href="#m92db724457" x="241.776" y="67.667687" style="fill-opacity: 0; stroke: #0000ff"/>
     <use href="#m92db724457" x="242.664" y="69.353196" style="fill-opacity: 0; stroke: #0000ff"/>
     <use href="#m92db724457" x="243.552" y="69.88001" style="fill-opacity: 0; stroke: #0000ff"/>
     <use href="#m92db724457" x="244.44" y="70.861816" style="fill-opacity: 0; stroke: #0000ff"/>
     <use href="#m92db724457" x="245.328" y="71.385514" style="fill-opacity: 0; stroke: #0000ff"/>
     <use href="#m92db724457" x="246.216" y="71.357579" style="fill-opacity: 0; stroke: #0000ff"/>
     <use href="#m92db724457" x="247.104" y="70.686709" style="fill-opacity: 0; stroke: #0000ff"/>
     <use href="#m92db724457" x="247.992" y="71.110485" style="fill-opacity: 0; stroke: #0000ff"/>
     <use href="#m92db724457" x="248.88" y="70.649609" style="fill-opacity: 0; stroke: #0000ff"/>
     <use href="#m92db724457" x="249.768" y="70.006855" style="fill-opacity: 0; stroke: #0000ff"/>
     <use href="#m92db724457" x="250.656" y="65.87595" style="fill-opacity: 0; stroke: #0000ff"/>
     <use href="#m92db724457" x="251.544" y="62.317322" style="fill-opacity: 0; stroke: #0000ff"/>
     <use href="#m92db724457" x="252.432" y="61.64773" style="fill-opacity: 0; stroke: #0000ff"/>
     <use href="#m92db724457" x="253.32" y="60.47427" style="fill-opacity: 0; stroke: #0000ff"/>
     <use href="#m92db724457" x="254.208" y="61.072918" style="fill-opacity: 0; stroke: #0000ff"/>
     <use href="#m92db724457" x="255.096" y="63.158837" style="fill-opacity: 0; stroke: #0000ff"/>
     <use href="#m92db724457" x="255.984" y="65.695937" style="fill-opacity: 0; stroke: #0000ff"/>
     <use href="#m92db724457" x="256.872" y="65.066134" style="fill-opacity: 0; stroke: #0000ff"/>
     <use href="#m92db724457" x="257.76" y="57.014972" style="fill-opacity: 0; stroke: #0000ff"/>
     <use href="#m92db724457" x="258.648" y="56.154463" style="fill-opacity: 0; stroke: #0000ff"/>
     <use href="#m92db724457" x="259.536" y="58.460524" style="fill-opacity: 0; stroke: #0000ff"/>
     <use href="#m92db724457" x="260.424" y="59.302597" style="fill-opacity: 0; stroke: #0000ff"/>
     <use href="#m92db724457" x="261.312" y="60.138693" style="fill-opacity: 0; stroke: #0000ff"/>
     <use href="#m92db724457" x="262.2" y="61.416859" style="fill-opacity: 0; stroke: #0000ff"/>
     <use href="#m92db724457" x="263.088" y="59.025638" style="fill-opacity: 0; stroke: #0000ff"/>
     <use href="#m92db724457" x="263.976" y="54.413879" style="fill-opacity: 0; stroke: #0000ff"/>
     <use href="#m92db724457" x="264.864" y="48.929777" style="fill-opacity: 0; stroke: #0000ff"/>
     <use href="#m92db724457" x="265.752" y="44.841623" style="fill-opacity: 0; stroke: #0000ff"/>
     <use href="#m92db724457" x="266.64" y="44.601723" style="fill-opacity: 0; stroke: #0000ff"/>
     <use href="#m92db724457" x="267.528" y="47.438783" style="fill-opacity: 0; stroke: #0000ff"/>
     <use href="#m92db724457" x="268.416" y="53.074162" style="fill-opacity: 0; stroke: #0000ff"/>
     <use href="#m92db724457" x="269.304" y="60.450068" style="fill-opacity: 0; stroke: #0000ff"/>
     <use href="#m92db724457" x="270.192" y="66.340631" style="fill-opacity: 0; stroke: #0000ff"/>
     <use href="#m92db724457" x="271.08" y="66.826584" style="fill-opacity: 0; stroke: #0000ff"/>
     <use href="#m92db724457" x="271.968" y="66.659609" style="fill-opacity: 0; stroke: #0000ff"/>
     <use href="#m92db724457" x="272.856" y="66.539462" style="fill-opacity: 0; stroke: #0000ff"/>
     <use href="#m92db724457" x="273.744" y="67.803172" style="fill-opacity: 0; stroke: #0000ff"/>
     <use href="#m92db724457" x="274.632" y="70.108692" style="fill-opacity: 0; stroke: #0000ff"/>
     <use href="#m92db724457" x="275.52" y="72.12956" style="fill-opacity: 0; stroke: #0000ff"/>
     <use href="#m92db724457" x="276.408" y="73.926476" style="fill-opacity: 0; stroke: #0000ff"/>
     <use href="#m92db724457" x="277.632" y="80.64" style="fill-opacity: 0; stroke: #0000ff"/>
     <use href="#m92db724457" x="278.208" y="94.32" style="fill-opacity: 0; stroke: #0000ff"/>
     <use href="#m92db724457" x="279.684" y="145.764" style="fill-opacity: 0; stroke: #0000ff"/>
     <use href="#m92db724457" x="280.368" y="193.248" style="fill-opacity: 0; stroke: #0000ff"/>
     <use href="#m92db724457" x="281.088" y="210.24" style="fill-opacity: 0; stroke: #0000ff"/>
     <use href="#m92db724457" x="281.952" y="216.72" style="fill-opacity: 0; stroke: #0000ff"/>
     <use href="#m92db724457" x="282.624" y="218.928696" style="fill-opacity: 0; stroke: #0000ff"/>
     <use href="#m92db724457" x="283.512" y="221.85334" style="fill-opacity: 0; stroke: #0000ff"/>
     <use href="#m92db724457" x="284.4" y="223.78376" style="fill-opacity: 0; stroke: #0000ff"/>
     <use href="#m92db724457" x="285.288" y="223.02966" style="fill-opacity: 0; stroke: #0000ff"/>
     <use href="#m92db724457" x="286.176" y="223.030593" style="fill-opacity: 0; stroke: #0000ff"/>
     <use href="#m92db724457" x="287.064" y="222.215202" style="fill-opacity: 0; stroke: #0000ff"/>
     <use href="#m92db724457" x="287.952" y="221.717222" style="fill-opacity: 0; stroke: #0000ff"/>
     <use href="#m92db724457" x="288.84" y="221.759526" style="fill-opacity: 0; stroke: #0000ff"/>
     <use href="#m92db724457" x="289.728" y="221.408052" style="fill-opacity: 0; stroke: #0000ff"/>
     <use href="#m92db724457" x="290.616" y="221.542948" style="fill-opacity: 0; stroke: #0000ff"/>
     <use href="#m92db724457" x="291.504" y="221.930027" style="fill-opacity: 0; stroke: #0000ff"/>
     <use href="#m92db724457" x="292.392" y="221.915872" style="fill-opacity: 0; stroke: #0000ff"/>
     <use href="#m92db724457" x="293.28" y="221.648321" style="fill-opacity: 0; stroke: #0000ff"/>
     <use href="#m92db724457" x="294.168" y="222.216255" style="fill-opacity: 0; stroke: #0000ff"/>
     <use href="#m92db724457" x="295.056" y="221.4593" style="fill-opacity: 0; stroke: #0000ff"/>
     <use href="#m92db724457" x="295.944" y="222.245958" style="fill-opacity: 0; stroke: #0000ff"/>
     <use href="#m92db724457" x="296.832" y="222.936513" style="fill-opacity: 0; stroke: #0000ff"/>
     <use href="#m92db724457" x="297.72" y="223.09365" style="fill-opacity: 0; stroke: #0000ff"/>
     <use href="#m92db724457" x="298.608" y="224.919985" style="fill-opacity: 0; stroke: #0000ff"/>
     <use href="#m92db724457" x="299.496" y="225.68924" style="fill-opacity: 0; stroke: #0000ff"/>
     <use href="#m92db724457" x="300.384" y="226.187897" style="fill-opacity: 0; stroke: #0000ff"/>
     <use href="#m92db724457" x="301.272" y="226.416762" style="fill-opacity: 0; stroke: #0000ff"/>
     <use href="#m92db724457" x="302.16" y="225.631505" style="fill-opacity: 0; stroke: #0000ff"/>
     <use href="#m92db724457" x="303.048" y="225.128872" style="fill-opacity: 0; stroke: #0000ff"/>
     <use href="#m92db724457" x="303.936" y="224.262852" style="fill-opacity: 0; stroke: #0000ff"/>
     <use href="#m92db724457" x="304.824" y="223.743852" style="fill-opacity: 0; stroke: #0000ff"/>
     <use href="#m92db724457" x="305.712" y="222.777977" style="fill-opacity: 0; stroke: #0000ff"/>
     <use href="#m92db724457" x="306.6" y="221.577961" style="fill-opacity: 0; stroke: #0000ff"/>
     <use href="#m92db724457" x="307.488" y="219.235725" style="fill-opacity: 0; stroke: #0000ff"/>
     <use href="#m92db724457" x="308.376" y="218.716406" style="fill-opacity: 0; stroke: #0000ff"/>
     <use href="#m92db724457" x="309.264" y="219.217289" style="fill-opacity: 0; stroke: #0000ff"/>
     <use href="#m92db724457" x="310.152" y="219.261279" style="fill-opacity: 0; stroke: #0000ff"/>
     <use href="#m92db724457" x="311.04" y="219.214475" style="fill-opacity: 0; stroke: #0000ff"/>
     <use href="#m92db724457" x="311.928" y="219.106159" style="fill-opacity: 0; stroke: #0000ff"/>
     <use href="#m92db724457" x="312.816" y="218.758583" style="fill-opacity: 0; stroke: #0000ff"/>
     <use href="#m92db724457" x="313.704" y="218.679864" style="fill-opacity: 0; stroke: #0000ff"/>
     <use href="#m92db724457" x="314.592" y="218.106494" style="fill-opacity: 0; stroke: #0000ff"/>
     <use href="#m92db724457" x="315.48" y="216.027575" style="fill-opacity: 0; stroke: #0000ff"/>
     <use href="#m92db724457" x="316.368" y="214.27413" style="fill-opacity: 0; stroke: #0000ff"/>
     <use href="#m92db724457" x="317.256" y="212.634743" style="fill-opacity: 0; stroke: #0000ff"/>
     <use href="#m92db724457" x="318.144" y="211.756532" style="fill-opacity: 0; stroke: #0000ff"/>
     <use href="#m92db724457" x="319.032" y="210.996367" style="fill-opacity: 0; stroke: #0000ff"/>
     <use href="#m92db724457" x="319.92" y="211.835611" style="fill-opacity: 0; stroke: #0000ff"/>
     <use href="#m92db724457" x="320.808" y="212.03631" style="fill-opacity: 0; stroke: #0000ff"/>
     <use href="#m92db724457" x="321.696" y="213.247185" style="fill-opacity: 0; stroke: #0000ff"/>
     <use href="#m92db724457" x="322.584" y="213.720739" style="fill-opacity: 0; stroke: #0000ff"/>
     <use href="#m92db724457" x="323.472" y="214.853332" style="fill-opacity: 0; stroke: #0000ff"/>
     <use href="#m92db724457" x="324.36" y="216.017682" style="fill-opacity: 0; stroke: #0000ff"/>
     <use href="#m92db724457" x="325.248" y="217.236339" style="fill-opacity: 0; stroke: #0000ff"/>
     <use href="#m92db724457" x="326.136" y="218.142143" style="fill-opacity: 0; stroke: #0000ff"/>
     <use href="#m92db724457" x="327.024" y="214.730328" style="fill-opacity: 0; stroke: #0000ff"/>
     <use href="#m92db724457" x="327.912" y="212.090616" style="fill-opacity: 0; stroke: #0000ff"/>
     <use href="#m92db724457" x="328.8" y="211.234347" style="fill-opacity: 0; stroke: #0000ff"/>
     <use href="#m92db724457" x="329.688" y="210.094218" style="fill-opacity: 0; stroke: #0000ff"/>
     <use href="#m92db724457" x="330.576" y="209.488759" style="fill-opacity: 0; stroke: #0000ff"/>
     <use href="#m92db724457" x="331.464" y="208.987115" style="fill-opacity: 0; stroke: #0000ff"/>
     <use href="#m92db724457" x="332.352" y="208.571548" style="fill-opacity: 0; stroke: #0000ff"/>
     <use href="#m92db724457" x="333.24" y="208.250616" style="fill-opacity: 0; stroke: #0000ff"/>
     <use href="#m92db724457" x="334.128" y="207.741773" style="fill-opacity: 0; stroke: #0000ff"/>
     <use href="#m92db724457" x="335.016" y="210.517162" style="fill-opacity: 0; stroke: #0000ff"/>
     <use href="#m92db724457" x="335.904" y="213.540567" style="fill-opacity: 0; stroke: #0000ff"/>
     <use href="#m92db724457" x="336.792" y="217.185944" style="fill-opacity: 0; stroke: #0000ff"/>
     <use href="#m92db724457" x="337.68" y="218.547599" style="fill-opacity: 0; stroke: #0000ff"/>
     <use href="#m92db724457" x="338.568" y="218.915041" style="fill-opacity: 0; stroke: #0000ff"/>
     <use href="#m92db724457" x="339.456" y="218.921109" style="fill-opacity: 0; stroke: #0000ff"/>
     <use href="#m92db724457" x="340.344" y="217.050222" style="fill-opacity: 0; stroke: #0000ff"/>
     <use href="#m92db724457" x="341.232" y="214.447682" style="fill-opacity: 0; stroke: #0000ff"/>
     <use href="#m92db724457" x="342.12" y="212.74847" style="fill-opacity: 0; stroke: #0000ff"/>
     <use href="#m92db724457" x="343.008" y="211.032866" style="fill-opacity: 0; stroke: #0000ff"/>
     <use href="#m92db724457" x="343.896" y="209.573002" style="fill-opacity: 0; stroke: #0000ff"/>
     <use href="#m92db724457" x="344.784" y="208.912983" style="fill-opacity: 0; stroke: #0000ff"/>
     <use href="#m92db724457" x="345.672" y="207.848889" style="fill-opacity: 0; stroke: #0000ff"/>
     <use href="#m92db724457" x="346.56" y="207.462446" style="fill-opacity: 0; stroke: #0000ff"/>
     <use href="#m92db724457" x="347.448" y="207.458265" style="fill-opacity: 0; stroke: #0000ff"/>
     <use href="#m92db724457" x="348.336" y="204.847979" style="fill-opacity: 0; stroke: #0000ff"/>
     <use href="#m92db724457" x="349.224" y="194.714241" style="fill-opacity: 0; stroke: #0000ff"/>
     <use href="#m92db724457" x="350.112" y="189.128842" style="fill-opacity: 0; stroke: #0000ff"/>
     <use href="#m92db724457" x="351" y="193.143965" style="fill-opacity: 0; stroke: #0000ff"/>
     <use href="#m92db724457" x="351.888" y="197.585514" style="fill-opacity: 0; stroke: #0000ff"/>
     <use href="#m92db724457" x="352.776" y="201.738343" style="fill-opacity: 0; stroke: #0000ff"/>
     <use href="#m92db724457" x="353.52" y="203.76" style="fill-opacity: 0; stroke: #0000ff"/>
     <use href="#m92db724457" x="354.24" y="192.96" style="fill-opacity: 0; stroke: #0000ff"/>
     <use href="#m92db724457" x="354.96" y="178.56" style="fill-opacity: 0; stroke: #0000ff"/>
     <use href="#m92db724457" x="355.44" y="177.915198" style="fill-opacity: 0; stroke: #0000ff"/>
     <use href="#m92db724457" x="356.328" y="176.59849" style="fill-opacity: 0; stroke: #0000ff"/>
     <use href="#m92db724457" x="357.216" y="175.802369" style="fill-opacity: 0; stroke: #0000ff"/>
     <use href="#m92db724457" x="358.104" y="178.61687" style="fill-opacity: 0; stroke: #0000ff"/>
     <use href="#m92db724457" x="358.992" y="183.38936" style="fill-opacity: 0; stroke: #0000ff"/>
     <use href="#m92db724457" x="359.88" y="190.590156" style="fill-opacity: 0; stroke: #0000ff"/>
     <use href="#m92db724457" x="360.768" y="191.340871" style="fill-opacity: 0; stroke: #0000ff"/>
     <use href="#m92db724457" x="361.656" y="191.676513" style="fill-opacity: 0; stroke: #0000ff"/>
     <use href="#m92db724457" x="362.544" y="191.760943" style="fill-opacity: 0; stroke: #0000ff"/>
     <use href="#m92db724457" x="363.432" y="191.389678" style="fill-opacity: 0; stroke: #0000ff"/>
     <use href="#m92db724457" x="364.32" y="193.848239" style="fill-opacity: 0; stroke: #0000ff"/>
     <use href="#m92db724457" x="365.208" y="196.141172" style="fill-opacity: 0; stroke: #0000ff"/>
     <use href="#m92db724457" x="366.096" y="198.168521" style="fill-opacity: 0; stroke: #0000ff"/>
     <use href="#m92db724457" x="366.984" y="198.315889" style="fill-opacity: 0; stroke: #0000ff"/>
     <use href="#m92db724457" x="367.872" y="197.543321" style="fill-opacity: 0; stroke: #0000ff"/>
     <use href="#m92db724457" x="368.76" y="196.182252" style="fill-opacity: 0; stroke: #0000ff"/>
     <use href="#m92db724457" x="369.648" y="194.862059" style="fill-opacity: 0; stroke: #0000ff"/>
     <use href="#m92db724457" x="370.536" y="193.648771" style="fill-opacity: 0; stroke: #0000ff"/>
     <use href="#m92db724457" x="371.424" y="191.986932" style="fill-opacity: 0; stroke: #0000ff"/>
     <use href="#m92db724457" x="372.312" y="190.503751" style="fill-opacity: 0; stroke: #0000ff"/>
    </g>
   </g>
   <g id="patch_3">
    <path d="M 56.52 250.92 
L 56.52 34.92 
" style="fill: none; stroke: #000000; stroke-width: 0.8; stroke-linejoin: miter; stroke-linecap: square"/>
   </g>
   <g id="patch_4">
    <path d="M 376.2 250.92 
L 376.2 34.92 
" style="fill: none; stroke: #000000; stroke-width: 0.8; stroke-linejoin: miter; stroke-linecap: square"/>
   </g>
   <g id="patch_5">
    <path d="M 56.52 250.92 
L 376.2 250.92 
" style="fill: none; stroke: #000000; stroke-width: 0.8; stroke-linejoin: miter; stroke-linecap: square"/>
   </g>
   <g id="patch_6">
    <path d="M 56.52 34.92 
L 376.2 34.92 
" style="fill: none; stroke: #000000; stroke-width: 0.8; stroke-linejoin: miter; stroke-linecap: square"/>
   </g>
   <g id="text_13">
    <!-- Pallas - Sammaltunturi -->
    <text x="216.36" y="28.92" font-size="14" text-anchor="middle" fill="#000000" style="font-family: 'Liberation Sans', sans-serif">Pallas - Sammaltunturi</text>
   </g>
  </g>
  <g id="axes_2">
   <g id="matplotlib.axis_3">
    <g id="ytick_5">
     <g id="line2d_28">
      <defs>
       <path id="m33c4ce201d" d="M 0 0 
L 3.5 0 
" style="stroke: #000000; stroke-width: 0.8"/>
      </defs>
      <g>
       <use href="#m33c4ce201d" x="376.2" y="70.2" style="stroke: #000000; stroke-width: 0.8"/>
      </g>
     </g>
     <g id="text_14">
      <!-- 2085 -->
      <text x="383.06" y="73.5" font-size="10" fill="#8b0000" style="font-family: 'Liberation Sans', sans-serif">2085</text>
     </g>
    </g>
    <g id="ytick_6">
     <g id="line2d_29">
      <g>
       <use href="#m33c4ce201d" x="376.2" y="114.12" style="stroke: #000000; stroke-width: 0.8"/>
      </g>
     </g>
     <g id="text_15">
      <!-- 2070 -->
      <text x="383.06" y="117.42" font-size="10" fill="#8b0000" style="font-family: 'Liberation Sans', sans-serif">2070</text>
     </g>
    </g>
    <g id="ytick_7">
     <g id="line2d_30">
      <g>
       <use href="#m33c4ce201d" x="376.2" y="158.76" style="stroke: #000000; stroke-width: 0.8"/>
      </g>
     </g>
     <g id="text_16">
      <!-- 2055 -->
      <text x="383.06" y="162.06" font-size="10" fill="#8b0000" style="font-family: 'Liberation Sans', sans-serif">2055</text>
     </g>
    </g>
    <g id="ytick_8">
     <g id="line2d_31">
      <g>
       <use href="#m33c4ce201d" x="376.2" y="202.68" style="stroke: #000000; stroke-width: 0.8"/>
      </g>
     </g>
     <g id="text_17">
      <!-- 2040 -->
      <text x="383.06" y="205.98" font-size="10" fill="#8b0000" style="font-family: 'Liberation Sans', sans-serif">2040</text>
     </g>
    </g>
    <g id="ytick_9">
     <g id="line2d_32">
      <g>
       <use href="#m33c4ce201d" x="376.2" y="247.32" style="stroke: #000000; stroke-width: 0.8"/>
      </g>
     </g>
     <g id="text_18">
      <!-- 2025 -->
      <text x="383.06" y="250.62" font-size="10" fill="#8b0000" style="font-family: 'Liberation Sans', sans-serif">2025</text>
     </g>
    </g>
    <g id="text_19">
     <!-- CH$_4$ [ppb] -->
     <text transform="translate(423.83 142.92) rotate(-90)" font-size="13" text-anchor="middle" fill="#8b0000" style="font-family: 'Liberation Sans', sans-serif">CH<tspan font-size="9.1" dy="2.1">4</tspan><tspan dy="-2.1"> [ppb]</tspan></text>
    </g>
   </g>
   <g id="line2d_33">
    <path d="M 74.304 240.62008 
L 75.192 239.551016 
L 76.08 238.083493 
L 76.968 237.750184 
L 77.856 236.073225 
L 79.632 234.429637 
L 80.52 233.04898 
L 81.408 232.051083 
L 82.296 229.434056 
L 84.072 220.859667 
L 84.96 219.789249 
L 85.848 219.522596 
L 86.736 220.771877 
L 87.624 220.645289 
L 88.512 220.339218 
L 89.4 220.999307 
L 90.288 221.020119 
L 91.176 221.629837 
L 92.064 222.44045 
L 92.952 224.329491 
L 93.84 227.071602 
L 94.728 230.42197 
L 95.616 233.160988 
L 96.504 235.340285 
L 98.28 238.540516 
L 99.168 239.314016 
L 100.056 239.930781 
L 100.944 240.053912 
L 101.832 240.682304 
L 102.72 239.506439 
L 103.608 240.148361 
L 104.496 240.221426 
L 105.384 240.551048 
L 106.272 240.429984 
L 107.16 240.189183 
L 108.048 240.476802 
L 108.936 240.551593 
L 109.824 240.280945 
L 110.712 240.489685 
L 111.6 239.778472 
L 112.488 240.608504 
L 113.376 240.285989 
L 114.264 232.748828 
L 115.152 230.819486 
L 116.04 228.244584 
L 116.928 221.009039 
L 118.704 170.314572 
L 119.592 156.935043 
L 120.48 153.346819 
L 121.368 155.215202 
L 124.032 184.400539 
L 124.92 183.508121 
L 125.712 167.04 
L 126.36 142.56 
L 127.44 122.4 
L 128.376 118.08 
L 129.312 142.56 
L 130.032 153.36 
L 130.896 189.36 
L 132.048 210.528 
L 132.912 206.998135 
L 134.688 197.034986 
L 135.576 190.088131 
L 136.464 178.029112 
L 137.352 159.761638 
L 138.24 153.751285 
L 139.128 151.666956 
L 140.016 143.496966 
L 140.904 141.962251 
L 141.792 140.755306 
L 142.68 141.178467 
L 143.568 141.937975 
L 144.456 141.969119 
L 145.344 143.146847 
L 146.232 144.067004 
L 147.12 160.362143 
L 148.008 167.482801 
L 149.784 168.433622 
L 150.672 170.664821 
L 151.56 179.706786 
L 152.448 191.803823 
L 155.112 221.41693 
L 156 224.990175 
L 156.888 225.844117 
L 157.776 225.896797 
L 158.664 227.738727 
L 160.44 229.908686 
L 161.328 229.837998 
L 162.216 219.787668 
L 163.104 215.459358 
L 163.992 208.471577 
L 164.88 202.928844 
L 165.768 199.190422 
L 166.656 192.118692 
L 167.544 187.461316 
L 169.32 184.96646 
L 171.096 188.704003 
L 171.984 192.445512 
L 172.872 196.856919 
L 173.76 199.689052 
L 174.648 202.114427 
L 175.536 204.149419 
L 176.424 205.870473 
L 177.312 207.145703 
L 178.2 207.178237 
L 179.088 205.971459 
L 179.976 203.245879 
L 182.64 196.990111 
L 183.528 195.311497 
L 184.416 189.707375 
L 185.304 181.235648 
L 186.192 181.385582 
L 187.08 183.959675 
L 187.968 185.043551 
L 188.856 183.697527 
L 189.744 182.798039 
L 190.632 180.389723 
L 192.408 171.359765 
L 193.296 164.341042 
L 194.184 152.343352 
L 195.072 146.092662 
L 195.96 144.818613 
L 196.848 144.29533 
L 197.736 148.116856 
L 198.624 152.828622 
L 200.4 160.106669 
L 201.288 160.984822 
L 202.176 159.835634 
L 203.064 154.997614 
L 203.952 154.390667 
L 204.84 150.079172 
L 205.728 144.461324 
L 206.616 142.72703 
L 208.392 140.539111 
L 209.28 139.034894 
L 210.168 141.487012 
L 211.056 154.163671 
L 211.944 161.260907 
L 212.832 170.130421 
L 214.608 190.396119 
L 215.496 193.517592 
L 216.384 193.294717 
L 217.272 192.593401 
L 219.936 183.918389 
L 220.824 182.559851 
L 221.712 177.474294 
L 222.6 168.740383 
L 223.488 165.438951 
L 224.376 160.73218 
L 227.928 138.160819 
L 228.816 134.022675 
L 229.704 130.764057 
L 230.592 124.452185 
L 231.48 120.391184 
L 232.368 113.987808 
L 233.256 111.809753 
L 234.144 111.013454 
L 235.032 110.436522 
L 235.92 110.844213 
L 238.584 113.233886 
L 239.472 113.815826 
L 240.36 114.999973 
L 241.248 115.661873 
L 243.024 116.701113 
L 243.912 116.53881 
L 244.8 115.671436 
L 245.688 115.310479 
L 246.576 116.192461 
L 247.464 119.775846 
L 248.352 119.721637 
L 249.24 119.032634 
L 250.128 116.801982 
L 251.016 110.885819 
L 251.904 108.066446 
L 253.68 106.886715 
L 254.568 107.208912 
L 255.456 107.710889 
L 256.344 108.008807 
L 257.232 104.925414 
L 258.12 92.346294 
L 259.008 87.786538 
L 260.784 74.715262 
L 262.56 66.493629 
L 263.448 67.59456 
L 264.336 70.962407 
L 265.224 75.320367 
L 266.112 77.406052 
L 267.12 70.56 
L 267.84 58.32 
L 268.92 44.64 
L 270 50.04 
L 270.72 60.48 
L 271.152 69.12 
L 272.52 57.24 
L 272.88 76.32 
L 273.6 95.76 
L 274.32 101.52 
L 275.76 102.96 
L 276.768 107.28 
L 277.632 116.928 
L 278.208 126 
L 279.792 170.208 
L 280.368 205.488 
L 280.8 218.16 
L 281.52 221.328 
L 282.984 224.665827 
L 283.872 227.631192 
L 284.76 233.117938 
L 285.648 232.175424 
L 286.536 231.715734 
L 287.424 230.658263 
L 288.312 229.81498 
L 289.2 229.781978 
L 290.976 228.922273 
L 291.864 229.098335 
L 292.752 228.804169 
L 293.64 229.044495 
L 295.416 230.553782 
L 296.304 231.788727 
L 298.968 236.95704 
L 299.856 236.905951 
L 300.744 235.756653 
L 301.632 234.159061 
L 302.52 233.550596 
L 303.408 233.209608 
L 304.296 233.109307 
L 305.184 232.266201 
L 306.072 231.721408 
L 306.96 228.745868 
L 307.848 223.953016 
L 308.736 223.197306 
L 309.624 222.947437 
L 310.512 223.198099 
L 311.4 222.925717 
L 312.288 223.001495 
L 313.176 222.586972 
L 314.952 222.182589 
L 316.728 220.401875 
L 317.616 219.387349 
L 318.504 218.547909 
L 319.392 217.968099 
L 320.28 218.326847 
L 321.168 219.061134 
L 322.056 220.193852 
L 322.944 223.092798 
L 323.832 226.483224 
L 324.72 228.255103 
L 325.608 229.579256 
L 330.048 224.82321 
L 331.824 225.754877 
L 333.6 225.845963 
L 334.488 224.624141 
L 335.376 226.576809 
L 336.264 229.738411 
L 337.152 229.860374 
L 338.04 230.122796 
L 338.928 229.80685 
L 339.816 229.36276 
L 340.704 229.185985 
L 341.592 225.447846 
L 342.48 222.49612 
L 345.144 219.693426 
L 346.032 218.90756 
L 346.92 218.569198 
L 347.808 218.058726 
L 348.696 217.108654 
L 349.584 216.550564 
L 350.472 215.21334 
L 351.36 214.903708 
L 354.024 220.419475 
L 354.912 215.537308 
L 355.8 199.718677 
L 356.688 197.071302 
L 357.576 196.253354 
L 358.464 200.066054 
L 360.24 213.67044 
L 361.128 216.25094 
L 362.016 214.279366 
L 362.904 213.334317 
L 363.792 214.413939 
L 364.68 217.195643 
L 365.568 220.871895 
L 366.456 222.586902 
L 367.344 223.188656 
L 368.232 223.400103 
L 369.12 224.650804 
L 370.008 225.19169 
L 370.896 226.023046 
L 371.784 225.830399 
L 372.672 226.256675 
L 372.672 226.256675 
" clip-path="url(#p01f3dd01d7)" style="fill: none; stroke: #8b0000; stroke-linecap: square"/>
    <defs>
     <path id="mf0e050cbb3" d="M 0 2 
C 0.530406 2 1.03916 1.789267 1.414214 1.414214 
C 1.789267 1.03916 2 0.530406 2 0 
C 2 -0.530406 1.789267 -1.03916 1.414214 -1.414214 
C 1.03916 -1.789267 0.530406 -2 0 -2 
C -0.530406 -2 -1.03916 -1.789267 -1.414214 -1.414214 
C -1.789267 -1.03916 -2 -0.530406 -2 0 
C -2 0.530406 -1.789267 1.03916 -1.414214 1.414214 
C -1.03916 1.789267 -0.530406 2 0 2 
z
" style="stroke: #8b0000"/>
    </defs>
    <g clip-path="url(#p01f3dd01d7)">
     <use href="#mf0e050cbb3" x="74.304" y="240.62008" style="fill-opacity: 0; stroke: #8b0000"/>
     <use href="#mf0e050cbb3" x="75.192" y="239.551016" style="fill-opacity: 0; stroke: #8b0000"/>
     <use href="#mf0e050cbb3" x="76.08" y="238.083493" style="fill-opacity: 0; stroke: #8b0000"/>
     <use href="#mf0e050cbb3" x="76.968" y="237.750184" style="fill-opacity: 0; stroke: #8b0000"/>
     <use href="#mf0e050cbb3" x="77.856" y="236.073225" style="fill-opacity: 0; stroke: #8b0000"/>
     <use href="#mf0e050cbb3" x="78.744" y="235.214874" style="fill-opacity: 0; stroke: #8b0000"/>
     <use href="#mf0e050cbb3" x="79.632" y="234.429637" style="fill-opacity: 0; stroke: #8b0000"/>
     <use href="#mf0e050cbb3" x="80.52" y="233.04898" style="fill-opacity: 0; stroke: #8b0000"/>
     <use href="#mf0e050cbb3" x="81.408" y="232.051083" style="fill-opacity: 0; stroke: #8b0000"/>
     <use href="#mf0e050cbb3" x="82.296" y="229.434056" style="fill-opacity: 0; stroke: #8b0000"/>
     <use href="#mf0e050cbb3" x="83.184" y="224.887184" style="fill-opacity: 0; stroke: #8b0000"/>
     <use href="#mf0e050cbb3" x="84.072" y="220.859667" style="fill-opacity: 0; stroke: #8b0000"/>
     <use href="#mf0e050cbb3" x="84.96" y="219.789249" style="fill-opacity: 0; stroke: #8b0000"/>
     <use href="#mf0e050cbb3" x="85.848" y="219.522596" style="fill-opacity: 0; stroke: #8b0000"/>
     <use href="#mf0e050cbb3" x="86.736" y="220.771877" style="fill-opacity: 0; stroke: #8b0000"/>
     <use href="#mf0e050cbb3" x="87.624" y="220.645289" style="fill-opacity: 0; stroke: #8b0000"/>
     <use href="#mf0e050cbb3" x="88.512" y="220.339218" style="fill-opacity: 0; stroke: #8b0000"/>
     <use href="#mf0e050cbb3" x="89.4" y="220.999307" style="fill-opacity: 0; stroke: #8b0000"/>
     <use href="#mf0e050cbb3" x="90.288" y="221.020119" style="fill-opacity: 0; stroke: #8b0000"/>
     <use href="#mf0e050cbb3" x="91.176" y="221.629837" style="fill-opacity: 0; stroke: #8b0000"/>
     <use href="#mf0e050cbb3" x="92.064" y="222.44045" style="fill-opacity: 0; stroke: #8b0000"/>
     <use href="#mf0e050cbb3" x="92.952" y="224.329491" style="fill-opacity: 0; stroke: #8b0000"/>
     <use href="#mf0e050cbb3" x="93.84" y="227.071602" style="fill-opacity: 0; stroke: #8b0000"/>
     <use href="#mf0e050cbb3" x="94.728" y="230.42197" style="fill-opacity: 0; stroke: #8b0000"/>
     <use href="#mf0e050cbb3" x="95.616" y="233.160988" style="fill-opacity: 0; stroke: #8b0000"/>
     <use href="#mf0e050cbb3" x="96.504" y="235.340285" style="fill-opacity: 0; stroke: #8b0000"/>
     <use href="#mf0e050cbb3" x="97.392" y="237.051268" style="fill-opacity: 0; stroke: #8b0000"/>
     <use href="#mf0e050cbb3" x="98.28" y="238.540516" style="fill-opacity: 0; stroke: #8b0000"/>
     <use href="#mf0e050cbb3" x="99.168" y="239.314016" style="fill-opacity: 0; stroke: #8b0000"/>
     <use href="#mf0e050cbb3" x="100.056" y="239.930781" style="fill-opacity: 0; stroke: #8b0000"/>
     <use href="#mf0e050cbb3" x="100.944" y="240.053912" style="fill-opacity: 0; stroke: #8b0000"/>
     <use href="#mf0e050cbb3" x="101.832" y="240.682304" style="fill-opacity: 0; stroke: #8b0000"/>
     <use href="#mf0e050cbb3" x="102.72" y="239.506439" style="fill-opacity: 0; stroke: #8b0000"/>
     <use href="#mf0e050cbb3" x="103.608" y="240.148361" style="fill-opacity: 0; stroke: #8b0000"/>
     <use href="#mf0e050cbb3" x="104.496" y="240.221426" style="fill-opacity: 0; stroke: #8b0000"/>
     <use href="#mf0e050cbb3" x="105.384" y="240.551048" style="fill-opacity: 0; stroke: #8b0000"/>
     <use href="#mf0e050cbb3" x="106.272" y="240.429984" style="fill-opacity: 0; stroke: #8b0000"/>
     <use href="#mf0e050cbb3" x="107.16" y="240.189183" style="fill-opacity: 0; stroke: #8b0000"/>
     <use href="#mf0e050cbb3" x="108.048" y="240.476802" style="fill-opacity: 0; stroke: #8b0000"/>
     <use href="#mf0e050cbb3" x="108.936" y="240.551593" style="fill-opacity: 0; stroke: #8b0000"/>
     <use href="#mf0e050cbb3" x="109.824" y="240.280945" style="fill-opacity: 0; stroke: #8b0000"/>
     <use href="#mf0e050cbb3" x="110.712" y="240.489685" style="fill-opacity: 0; stroke: #8b0000"/>
     <use href="#mf0e050cbb3" x="111.6" y="239.778472" style="fill-opacity: 0; stroke: #8b0000"/>
     <use href="#mf0e050cbb3" x="112.488" y="240.608504" style="fill-opacity: 0; stroke: #8b0000"/>
     <use href="#mf0e050cbb3" x="113.376" y="240.285989" style="fill-opacity: 0; stroke: #8b0000"/>
     <use href="#mf0e050cbb3" x="114.264" y="232.748828" style="fill-opacity: 0; stroke: #8b0000"/>
     <use href="#mf0e050cbb3" x="115.152" y="230.819486" style="fill-opacity: 0; stroke: #8b0000"/>
     <use href="#mf0e050cbb3" x="116.04" y="228.244584" style="fill-opacity: 0; stroke: #8b0000"/>
     <use href="#mf0e050cbb3" x="116.928" y="221.009039" style="fill-opacity: 0; stroke: #8b0000"/>
     <use href="#mf0e050cbb3" x="117.816" y="194.210309" style="fill-opacity: 0; stroke: #8b0000"/>
     <use href="#mf0e050cbb3" x="118.704" y="170.314572" style="fill-opacity: 0; stroke: #8b0000"/>
     <use href="#mf0e050cbb3" x="119.592" y="156.935043" style="fill-opacity: 0; stroke: #8b0000"/>
     <use href="#mf0e050cbb3" x="120.48" y="153.346819" style="fill-opacity: 0; stroke: #8b0000"/>
     <use href="#mf0e050cbb3" x="121.368" y="155.215202" style="fill-opacity: 0; stroke: #8b0000"/>
     <use href="#mf0e050cbb3" x="122.256" y="164.584454" style="fill-opacity: 0; stroke: #8b0000"/>
     <use href="#mf0e050cbb3" x="123.144" y="174.553848" style="fill-opacity: 0; stroke: #8b0000"/>
     <use href="#mf0e050cbb3" x="124.032" y="184.400539" style="fill-opacity: 0; stroke: #8b0000"/>
     <use href="#mf0e050cbb3" x="124.92" y="183.508121" style="fill-opacity: 0; stroke: #8b0000"/>
     <use href="#mf0e050cbb3" x="125.712" y="167.04" style="fill-opacity: 0; stroke: #8b0000"/>
     <use href="#mf0e050cbb3" x="126.36" y="142.56" style="fill-opacity: 0; stroke: #8b0000"/>
     <use href="#mf0e050cbb3" x="127.44" y="122.4" style="fill-opacity: 0; stroke: #8b0000"/>
     <use href="#mf0e050cbb3" x="128.376" y="118.08" style="fill-opacity: 0; stroke: #8b0000"/>
     <use href="#mf0e050cbb3" x="129.312" y="142.56" style="fill-opacity: 0; stroke: #8b0000"/>
     <use href="#mf0e050cbb3" x="130.032" y="153.36" style="fill-opacity: 0; stroke: #8b0000"/>
     <use href="#mf0e050cbb3" x="130.896" y="189.36" style="fill-opacity: 0; stroke: #8b0000"/>
     <use href="#mf0e050cbb3" x="132.048" y="210.528" style="fill-opacity: 0; stroke: #8b0000"/>
     <use href="#mf0e050cbb3" x="132.912" y="206.998135" style="fill-opacity: 0; stroke: #8b0000"/>
     <use href="#mf0e050cbb3" x="133.8" y="202.185787" style="fill-opacity: 0; stroke: #8b0000"/>
     <use href="#mf0e050cbb3" x="134.688" y="197.034986" style="fill-opacity: 0; stroke: #8b0000"/>
     <use href="#mf0e050cbb3" x="135.576" y="190.088131" style="fill-opacity: 0; stroke: #8b0000"/>
     <use href="#mf0e050cbb3" x="136.464" y="178.029112" style="fill-opacity: 0; stroke: #8b0000"/>
     <use href="#mf0e050cbb3" x="137.352" y="159.761638" style="fill-opacity: 0; stroke: #8b0000"/>
     <use href="#mf0e050cbb3" x="138.24" y="153.751285" style="fill-opacity: 0; stroke: #8b0000"/>
     <use href="#mf0e050cbb3" x="139.128" y="151.666956" style="fill-opacity: 0; stroke: #8b0000"/>
     <use href="#mf0e050cbb3" x="140.016" y="143.496966" style="fill-opacity: 0; stroke: #8b0000"/>
     <use href="#mf0e050cbb3" x="140.904" y="141.962251" style="fill-opacity: 0; stroke: #8b0000"/>
     <use href="#mf0e050cbb3" x="141.792" y="140.755306" style="fill-opacity: 0; stroke: #8b0000"/>
     <use href="#mf0e050cbb3" x="142.68" y="141.178467" style="fill-opacity: 0; stroke: #8b0000"/>
     <use href="#mf0e050cbb3" x="143.568" y="141.937975" style="fill-opacity: 0; stroke: #8b0000"/>
     <use href="#mf0e050cbb3" x="144.456" y="141.969119" style="fill-opacity: 0; stroke: #8b0000"/>
     <use href="#mf0e050cbb3" x="145.344" y="143.146847" style="fill-opacity: 0; stroke: #8b0000"/>
     <use href="#mf0e050cbb3" x="146.232" y="144.067004" style="fill-opacity: 0; stroke: #8b0000"/>
     <use href="#mf0e050cbb3" x="147.12" y="160.362143" style="fill-opacity: 0; stroke: #8b0000"/>
     <use href="#mf0e050cbb3" x="148.008" y="167.482801" style="fill-opacity: 0; stroke: #8b0000"/>
     <use href="#mf0e050cbb3" x="148.896" y="167.928914" style="fill-opacity: 0; stroke: #8b0000"/>
     <use href="#mf0e050cbb3" x="149.784" y="168.433622" style="fill-opacity: 0; stroke: #8b0000"/>
     <use href="#mf0e050cbb3" x="150.672" y="170.664821" style="fill-opacity: 0; stroke: #8b0000"/>
     <use href="#mf0e050cbb3" x="151.56" y="179.706786" style="fill-opacity: 0; stroke: #8b0000"/>
     <use href="#mf0e050cbb3" x="152.448" y="191.803823" style="fill-opacity: 0; stroke: #8b0000"/>
     <use href="#mf0e050cbb3" x="153.336" y="201.591514" style="fill-opacity: 0; stroke: #8b0000"/>
     <use href="#mf0e050cbb3" x="154.224" y="210.262144" style="fill-opacity: 0; stroke: #8b0000"/>
     <use href="#mf0e050cbb3" x="155.112" y="221.41693" style="fill-opacity: 0; stroke: #8b0000"/>
     <use href="#mf0e050cbb3" x="156" y="224.990175" style="fill-opacity: 0; stroke: #8b0000"/>
     <use href="#mf0e050cbb3" x="156.888" y="225.844117" style="fill-opacity: 0; stroke: #8b0000"/>
     <use href="#mf0e050cbb3" x="157.776" y="225.896797" style="fill-opacity: 0; stroke: #8b0000"/>
     <use href="#mf0e050cbb3" x="158.664" y="227.738727" style="fill-opacity: 0; stroke: #8b0000"/>
     <use href="#mf0e050cbb3" x="159.552" y="228.869822" style="fill-opacity: 0; stroke: #8b0000"/>
     <use href="#mf0e050cbb3" x="160.44" y="229.908686" style="fill-opacity: 0; stroke: #8b0000"/>
     <use href="#mf0e050cbb3" x="161.328" y="229.837998" style="fill-opacity: 0; stroke: #8b0000"/>
     <use href="#mf0e050cbb3" x="162.216" y="219.787668" style="fill-opacity: 0; stroke: #8b0000"/>
     <use href="#mf0e050cbb3" x="163.104" y="215.459358" style="fill-opacity: 0; stroke: #8b0000"/>
     <use href="#mf0e050cbb3" x="163.992" y="208.471577" style="fill-opacity: 0; stroke: #8b0000"/>
     <use href="#mf0e050cbb3" x="164.88" y="202.928844" style="fill-opacity: 0; stroke: #8b0000"/>
     <use href="#mf0e050cbb3" x="165.768" y="199.190422" style="fill-opacity: 0; stroke: #8b0000"/>
     <use href="#mf0e050cbb3" x="166.656" y="192.118692" style="fill-opacity: 0; stroke: #8b0000"/>
     <use href="#mf0e050cbb3" x="167.544" y="187.461316" style="fill-opacity: 0; stroke: #8b0000"/>
     <use href="#mf0e050cbb3" x="168.432" y="186.119701" style="fill-opacity: 0; stroke: #8b0000"/>
     <use href="#mf0e050cbb3" x="169.32" y="184.96646" style="fill-opacity: 0; stroke: #8b0000"/>
     <use href="#mf0e050cbb3" x="170.208" y="186.716412" style="fill-opacity: 0; stroke: #8b0000"/>
     <use href="#mf0e050cbb3" x="171.096" y="188.704003" style="fill-opacity: 0; stroke: #8b0000"/>
     <use href="#mf0e050cbb3" x="171.984" y="192.445512" style="fill-opacity: 0; stroke: #8b0000"/>
     <use href="#mf0e050cbb3" x="172.872" y="196.856919" style="fill-opacity: 0; stroke: #8b0000"/>
     <use href="#mf0e050cbb3" x="173.76" y="199.689052" style="fill-opacity: 0; stroke: #8b0000"/>
     <use href="#mf0e050cbb3" x="174.648" y="202.114427" style="fill-opacity: 0; stroke: #8b0000"/>
     <use href="#mf0e050cbb3" x="175.536" y="204.149419" style="fill-opacity: 0; stroke: #8b0000"/>
     <use href="#mf0e050cbb3" x="176.424" y="205.870473" style="fill-opacity: 0; stroke: #8b0000"/>
     <use href="#mf0e050cbb3" x="177.312" y="207.145703" style="fill-opacity: 0; stroke: #8b0000"/>
     <use href="#mf0e050cbb3" x="178.2" y="207.178237" style="fill-opacity: 0; stroke: #8b0000"/>
     <use href="#mf0e050cbb3" x="179.088" y="205.971459" style="fill-opacity: 0; stroke: #8b0000"/>
     <use href="#mf0e050cbb3" x="179.976" y="203.245879" style="fill-opacity: 0; stroke: #8b0000"/>
     <use href="#mf0e050cbb3" x="180.864" y="201.092916" style="fill-opacity: 0; stroke: #8b0000"/>
     <use href="#mf0e050cbb3" x="181.752" y="199.083742" style="fill-opacity: 0; stroke: #8b0000"/>
     <use href="#mf0e050cbb3" x="182.64" y="196.990111" style="fill-opacity: 0; stroke: #8b0000"/>
     <use href="#mf0e050cbb3" x="183.528" y="195.311497" style="fill-opacity: 0; stroke: #8b0000"/>
     <use href="#mf0e050cbb3" x="184.416" y="189.707375" style="fill-opacity: 0; stroke: #8b0000"/>
     <use href="#mf0e050cbb3" x="185.304" y="181.235648" style="fill-opacity: 0; stroke: #8b0000"/>
     <use href="#mf0e050cbb3" x="186.192" y="181.385582" style="fill-opacity: 0; stroke: #8b0000"/>
     <use href="#mf0e050cbb3" x="187.08" y="183.959675" style="fill-opacity: 0; stroke: #8b0000"/>
     <use href="#mf0e050cbb3" x="187.968" y="185.043551" style="fill-opacity: 0; stroke: #8b0000"/>
     <use href="#mf0e050cbb3" x="188.856" y="183.697527" style="fill-opacity: 0; stroke: #8b0000"/>
     <use href="#mf0e050cbb3" x="189.744" y="182.798039" style="fill-opacity: 0; stroke: #8b0000"/>
     <use href="#mf0e050cbb3" x="190.632" y="180.389723" style="fill-opacity: 0; stroke: #8b0000"/>
     <use href="#mf0e050cbb3" x="191.52" y="175.878065" style="fill-opacity: 0; stroke: #8b0000"/>
     <use href="#mf0e050cbb3" x="192.408" y="171.359765" style="fill-opacity: 0; stroke: #8b0000"/>
     <use href="#mf0e050cbb3" x="193.296" y="164.341042" style="fill-opacity: 0; stroke: #8b0000"/>
     <use href="#mf0e050cbb3" x="194.184" y="152.343352" style="fill-opacity: 0; stroke: #8b0000"/>
     <use href="#mf0e050cbb3" x="195.072" y="146.092662" style="fill-opacity: 0; stroke: #8b0000"/>
     <use href="#mf0e050cbb3" x="195.96" y="144.818613" style="fill-opacity: 0; stroke: #8b0000"/>
     <use href="#mf0e050cbb3" x="196.848" y="144.29533" style="fill-opacity: 0; stroke: #8b0000"/>
     <use href="#mf0e050cbb3" x="197.736" y="148.116856" style="fill-opacity: 0; stroke: #8b0000"/>
     <use href="#mf0e050cbb3" x="198.624" y="152.828622" style="fill-opacity: 0; stroke: #8b0000"/>
     <use href="#mf0e050cbb3" x="199.512" y="156.517682" style="fill-opacity: 0; stroke: #8b0000"/>
     <use href="#mf0e050cbb3" x="200.4" y="160.106669" style="fill-opacity: 0; stroke: #8b0000"/>
     <use href="#mf0e050cbb3" x="201.288" y="160.984822" style="fill-opacity: 0; stroke: #8b0000"/>
     <use href="#mf0e050cbb3" x="202.176" y="159.835634" style="fill-opacity: 0; stroke: #8b0000"/>
     <use href="#mf0e050cbb3" x="203.064" y="154.997614" style="fill-opacity: 0; stroke: #8b0000"/>
     <use href="#mf0e050cbb3" x="203.952" y="154.390667" style="fill-opacity: 0; stroke: #8b0000"/>
     <use href="#mf0e050cbb3" x="204.84" y="150.079172" style="fill-opacity: 0; stroke: #8b0000"/>
     <use href="#mf0e050cbb3" x="205.728" y="144.461324" style="fill-opacity: 0; stroke: #8b0000"/>
     <use href="#mf0e050cbb3" x="206.616" y="142.72703" style="fill-opacity: 0; stroke: #8b0000"/>
     <use href="#mf0e050cbb3" x="207.504" y="141.675394" style="fill-opacity: 0; stroke: #8b0000"/>
     <use href="#mf0e050cbb3" x="208.392" y="140.539111" style="fill-opacity: 0; stroke: #8b0000"/>
     <use href="#mf0e050cbb3" x="209.28" y="139.034894" style="fill-opacity: 0; stroke: #8b0000"/>
     <use href="#mf0e050cbb3" x="210.168" y="141.487012" style="fill-opacity: 0; stroke: #8b0000"/>
     <use href="#mf0e050cbb3" x="211.056" y="154.163671" style="fill-opacity: 0; stroke: #8b0000"/>
     <use href="#mf0e050cbb3" x="211.944" y="161.260907" style="fill-opacity: 0; stroke: #8b0000"/>
     <use href="#mf0e050cbb3" x="212.832" y="170.130421" style="fill-opacity: 0; stroke: #8b0000"/>
     <use href="#mf0e050cbb3" x="213.72" y="180.404334" style="fill-opacity: 0; stroke: #8b0000"/>
     <use href="#mf0e050cbb3" x="214.608" y="190.396119" style="fill-opacity: 0; stroke: #8b0000"/>
     <use href="#mf0e050cbb3" x="215.496" y="193.517592" style="fill-opacity: 0; stroke: #8b0000"/>
     <use href="#mf0e050cbb3" x="216.384" y="193.294717" style="fill-opacity: 0; stroke: #8b0000"/>
     <use href="#mf0e050cbb3" x="217.272" y="192.593401" style="fill-opacity: 0; stroke: #8b0000"/>
     <use href="#mf0e050cbb3" x="218.16" y="189.660257" style="fill-opacity: 0; stroke: #8b0000"/>
     <use href="#mf0e050cbb3" x="219.048" y="186.515559" style="fill-opacity: 0; stroke: #8b0000"/>
     <use href="#mf0e050cbb3" x="219.936" y="183.918389" style="fill-opacity: 0; stroke: #8b0000"/>
     <use href="#mf0e050cbb3" x="220.824" y="182.559851" style="fill-opacity: 0; stroke: #8b0000"/>
     <use href="#mf0e050cbb3" x="221.712" y="177.474294" style="fill-opacity: 0; stroke: #8b0000"/>
     <use href="#mf0e050cbb3" x="222.6" y="168.740383" style="fill-opacity: 0; stroke: #8b0000"/>
     <use href="#mf0e050cbb3" x="223.488" y="165.438951" style="fill-opacity: 0; stroke: #8b0000"/>
     <use href="#mf0e050cbb3" x="224.376" y="160.73218" style="fill-opacity: 0; stroke: #8b0000"/>
     <use href="#mf0e050cbb3" x="225.264" y="154.970311" style="fill-opacity: 0; stroke: #8b0000"/>
     <use href="#mf0e050cbb3" x="226.152" y="148.868158" style="fill-opacity: 0; stroke: #8b0000"/>
     <use href="#mf0e050cbb3" x="227.04" y="143.552274" style="fill-opacity: 0; stroke: #8b0000"/>
     <use href="#mf0e050cbb3" x="227.928" y="138.160819" style="fill-opacity: 0; stroke: #8b0000"/>
     <use href="#mf0e050cbb3" x="228.816" y="134.022675" style="fill-opacity: 0; stroke: #8b0000"/>
     <use href="#mf0e050cbb3" x="229.704" y="130.764057" style="fill-opacity: 0; stroke: #8b0000"/>
     <use href="#mf0e050cbb3" x="230.592" y="124.452185" style="fill-opacity: 0; stroke: #8b0000"/>
     <use href="#mf0e050cbb3" x="231.48" y="120.391184" style="fill-opacity: 0; stroke: #8b0000"/>
     <use href="#mf0e050cbb3" x="232.368" y="113.987808" style="fill-opacity: 0; stroke: #8b0000"/>
     <use href="#mf0e050cbb3" x="233.256" y="111.809753" style="fill-opacity: 0; stroke: #8b0000"/>
     <use href="#mf0e050cbb3" x="234.144" y="111.013454" style="fill-opacity: 0; stroke: #8b0000"/>
     <use href="#mf0e050cbb3" x="235.032" y="110.436522" style="fill-opacity: 0; stroke: #8b0000"/>
     <use href="#mf0e050cbb3" x="235.92" y="110.844213" style="fill-opacity: 0; stroke: #8b0000"/>
     <use href="#mf0e050cbb3" x="236.808" y="111.625011" style="fill-opacity: 0; stroke: #8b0000"/>
     <use href="#mf0e050cbb3" x="237.696" y="112.302212" style="fill-opacity: 0; stroke: #8b0000"/>
     <use href="#mf0e050cbb3" x="238.584" y="113.233886" style="fill-opacity: 0; stroke: #8b0000"/>
     <use href="#mf0e050cbb3" x="239.472" y="113.815826" style="fill-opacity: 0; stroke: #8b0000"/>
     <use href="#mf0e050cbb3" x="240.36" y="114.999973" style="fill-opacity: 0; stroke: #8b0000"/>
     <use href="#mf0e050cbb3" x="241.248" y="115.661873" style="fill-opacity: 0; stroke: #8b0000"/>
     <use href="#mf0e050cbb3" x="242.136" y="116.164347" style="fill-opacity: 0; stroke: #8b0000"/>
     <use href="#mf0e050cbb3" x="243.024" y="116.701113" style="fill-opacity: 0; stroke: #8b0000"/>
     <use href="#mf0e050cbb3" x="243.912" y="116.53881" style="fill-opacity: 0; stroke: #8b0000"/>
     <use href="#mf0e050cbb3" x="244.8" y="115.671436" style="fill-opacity: 0; stroke: #8b0000"/>
     <use href="#mf0e050cbb3" x="245.688" y="115.310479" style="fill-opacity: 0; stroke: #8b0000"/>
     <use href="#mf0e050cbb3" x="246.576" y="116.192461" style="fill-opacity: 0; stroke: #8b0000"/>
     <use href="#mf0e050cbb3" x="247.464" y="119.775846" style="fill-opacity: 0; stroke: #8b0000"/>
     <use href="#mf0e050cbb3" x="248.352" y="119.721637" style="fill-opacity: 0; stroke: #8b0000"/>
     <use href="#mf0e050cbb3" x="249.24" y="119.032634" style="fill-opacity: 0; stroke: #8b0000"/>
     <use href="#mf0e050cbb3" x="250.128" y="116.801982" style="fill-opacity: 0; stroke: #8b0000"/>
     <use href="#mf0e050cbb3" x="251.016" y="110.885819" style="fill-opacity: 0; stroke: #8b0000"/>
     <use href="#mf0e050cbb3" x="251.904" y="108.066446" style="fill-opacity: 0; stroke: #8b0000"/>
     <use href="#mf0e050cbb3" x="252.792" y="107.498258" style="fill-opacity: 0; stroke: #8b0000"/>
     <use href="#mf0e050cbb3" x="253.68" y="106.886715" style="fill-opacity: 0; stroke: #8b0000"/>
     <use href="#mf0e050cbb3" x="254.568" y="107.208912" style="fill-opacity: 0; stroke: #8b0000"/>
     <use href="#mf0e050cbb3" x="255.456" y="107.710889" style="fill-opacity: 0; stroke: #8b0000"/>
     <use href="#mf0e050cbb3" x="256.344" y="108.008807" style="fill-opacity: 0; stroke: #8b0000"/>
     <use href="#mf0e050cbb3" x="257.232" y="104.925414" style="fill-opacity: 0; stroke: #8b0000"/>
     <use href="#mf0e050cbb3" x="258.12" y="92.346294" style="fill-opacity: 0; stroke: #8b0000"/>
     <use href="#mf0e050cbb3" x="259.008" y="87.786538" style="fill-opacity: 0; stroke: #8b0000"/>
     <use href="#mf0e050cbb3" x="259.896" y="81.268367" style="fill-opacity: 0; stroke: #8b0000"/>
     <use href="#mf0e050cbb3" x="260.784" y="74.715262" style="fill-opacity: 0; stroke: #8b0000"/>
     <use href="#mf0e050cbb3" x="261.672" y="70.474596" style="fill-opacity: 0; stroke: #8b0000"/>
     <use href="#mf0e050cbb3" x="262.56" y="66.493629" style="fill-opacity: 0; stroke: #8b0000"/>
     <use href="#mf0e050cbb3" x="263.448" y="67.59456" style="fill-opacity: 0; stroke: #8b0000"/>
     <use href="#mf0e050cbb3" x="264.336" y="70.962407" style="fill-opacity: 0; stroke: #8b0000"/>
     <use href="#mf0e050cbb3" x="265.224" y="75.320367" style="fill-opacity: 0; stroke: #8b0000"/>
     <use href="#mf0e050cbb3" x="266.112" y="77.406052" style="fill-opacity: 0; stroke: #8b0000"/>
     <use href="#mf0e050cbb3" x="267.12" y="70.56" style="fill-opacity: 0; stroke: #8b0000"/>
     <use href="#mf0e050cbb3" x="267.84" y="58.32" style="fill-opacity: 0; stroke: #8b0000"/>
     <use href="#mf0e050cbb3" x="268.92" y="44.64" style="fill-opacity: 0; stroke: #8b0000"/>
     <use href="#mf0e050cbb3" x="270" y="50.04" style="fill-opacity: 0; stroke: #8b0000"/>
     <use href="#mf0e050cbb3" x="270.72" y="60.48" style="fill-opacity: 0; stroke: #8b0000"/>
     <use href="#mf0e050cbb3" x="271.152" y="69.12" style="fill-opacity: 0; stroke: #8b0000"/>
     <use href="#mf0e050cbb3" x="272.52" y="57.24" style="fill-opacity: 0; stroke: #8b0000"/>
     <use href="#mf0e050cbb3" x="272.88" y="76.32" style="fill-opacity: 0; stroke: #8b0000"/>
     <use href="#mf0e050cbb3" x="273.6" y="95.76" style="fill-opacity: 0; stroke: #8b0000"/>
     <use href="#mf0e050cbb3" x="274.32" y="101.52" style="fill-opacity: 0; stroke: #8b0000"/>
     <use href="#mf0e050cbb3" x="275.76" y="102.96" style="fill-opacity: 0; stroke: #8b0000"/>
     <use href="#mf0e050cbb3" x="276.768" y="107.28" style="fill-opacity: 0; stroke: #8b0000"/>
     <use href="#mf0e050cbb3" x="277.632" y="116.928" style="fill-opacity: 0; stroke: #8b0000"/>
     <use href="#mf0e050cbb3" x="278.208" y="126" style="fill-opacity: 0; stroke: #8b0000"/>
     <use href="#mf0e050cbb3" x="279.792" y="170.208" style="fill-opacity: 0; stroke: #8b0000"/>
     <use href="#mf0e050cbb3" x="280.368" y="205.488" style="fill-opacity: 0; stroke: #8b0000"/>
     <use href="#mf0e050cbb3" x="280.8" y="218.16" style="fill-opacity: 0; stroke: #8b0000"/>
     <use href="#mf0e050cbb3" x="281.52" y="221.328" style="fill-opacity: 0; stroke: #8b0000"/>
     <use href="#mf0e050cbb3" x="282.984" y="224.665827" style="fill-opacity: 0; stroke: #8b0000"/>
     <use href="#mf0e050cbb3" x="283.872" y="227.631192" style="fill-opacity: 0; stroke: #8b0000"/>
     <use href="#mf0e050cbb3" x="284.76" y="233.117938" style="fill-opacity: 0; stroke: #8b0000"/>
     <use href="#mf0e050cbb3" x="285.648" y="232.175424" style="fill-opacity: 0; stroke: #8b0000"/>
     <use href="#mf0e050cbb3" x="286.536" y="231.715734" style="fill-opacity: 0; stroke: #8b0000"/>
     <use href="#mf0e050cbb3" x="287.424" y="230.658263" style="fill-opacity: 0; stroke: #8b0000"/>
     <use href="#mf0e050cbb3" x="288.312" y="229.81498" style="fill-opacity: 0; stroke: #8b0000"/>
     <use href="#mf0e050cbb3" x="289.2" y="229.781978" style="fill-opacity: 0; stroke: #8b0000"/>
     <use href="#mf0e050cbb3" x="290.088" y="229.288764" style="fill-opacity: 0; stroke: #8b0000"/>
     <use href="#mf0e050cbb3" x="290.976" y="228.922273" style="fill-opacity: 0; stroke: #8b0000"/>
     <use href="#mf0e050cbb3" x="291.864" y="229.098335" style="fill-opacity: 0; stroke: #8b0000"/>
     <use href="#mf0e050cbb3" x="292.752" y="228.804169" style="fill-opacity: 0; stroke: #8b0000"/>
     <use href="#mf0e050cbb3" x="293.64" y="229.044495" style="fill-opacity: 0; stroke: #8b0000"/>
     <use href="#mf0e050cbb3" x="294.528" y="229.829068" style="fill-opacity: 0; stroke: #8b0000"/>
     <use href="#mf0e050cbb3" x="295.416" y="230.553782" style="fill-opacity: 0; stroke: #8b0000"/>
     <use href="#mf0e050cbb3" x="296.304" y="231.788727" style="fill-opacity: 0; stroke: #8b0000"/>
     <use href="#mf0e050cbb3" x="297.192" y="233.581376" style="fill-opacity: 0; stroke: #8b0000"/>
     <use href="#mf0e050cbb3" x="298.08" y="235.161131" style="fill-opacity: 0; stroke: #8b0000"/>
     <use href="#mf0e050cbb3" x="298.968" y="236.95704" style="fill-opacity: 0; stroke: #8b0000"/>
     <use href="#mf0e050cbb3" x="299.856" y="236.905951" style="fill-opacity: 0; stroke: #8b0000"/>
     <use href="#mf0e050cbb3" x="300.744" y="235.756653" style="fill-opacity: 0; stroke: #8b0000"/>
     <use href="#mf0e050cbb3" x="301.632" y="234.159061" style="fill-opacity: 0; stroke: #8b0000"/>
     <use href="#mf0e050cbb3" x="302.52" y="233.550596" style="fill-opacity: 0; stroke: #8b0000"/>
     <use href="#mf0e050cbb3" x="303.408" y="233.209608" style="fill-opacity: 0; stroke: #8b0000"/>
     <use href="#mf0e050cbb3" x="304.296" y="233.109307" style="fill-opacity: 0; stroke: #8b0000"/>
     <use href="#mf0e050cbb3" x="305.184" y="232.266201" style="fill-opacity: 0; stroke: #8b0000"/>
     <use href="#mf0e050cbb3" x="306.072" y="231.721408" style="fill-opacity: 0; stroke: #8b0000"/>
     <use href="#mf0e050cbb3" x="306.96" y="228.745868" style="fill-opacity: 0; stroke: #8b0000"/>
     <use href="#mf0e050cbb3" x="307.848" y="223.953016" style="fill-opacity: 0; stroke: #8b0000"/>
     <use href="#mf0e050cbb3" x="308.736" y="223.197306" style="fill-opacity: 0; stroke: #8b0000"/>
     <use href="#mf0e050cbb3" x="309.624" y="222.947437" style="fill-opacity: 0; stroke: #8b0000"/>
     <use href="#mf0e050cbb3" x="310.512" y="223.198099" style="fill-opacity: 0; stroke: #8b0000"/>
     <use href="#mf0e050cbb3" x="311.4" y="222.925717" style="fill-opacity: 0; stroke: #8b0000"/>
     <use href="#mf0e050cbb3" x="312.288" y="223.001495" style="fill-opacity: 0; stroke: #8b0000"/>
     <use href="#mf0e050cbb3" x="313.176" y="222.586972" style="fill-opacity: 0; stroke: #8b0000"/>
     <use href="#mf0e050cbb3" x="314.064" y="222.390481" style="fill-opacity: 0; stroke: #8b0000"/>
     <use href="#mf0e050cbb3" x="314.952" y="222.182589" style="fill-opacity: 0; stroke: #8b0000"/>
     <use href="#mf0e050cbb3" x="315.84" y="221.353796" style="fill-opacity: 0; stroke: #8b0000"/>
     <use href="#mf0e050cbb3" x="316.728" y="220.401875" style="fill-opacity: 0; stroke: #8b0000"/>
     <use href="#mf0e050cbb3" x="317.616" y="219.387349" style="fill-opacity: 0; stroke: #8b0000"/>
     <use href="#mf0e050cbb3" x="318.504" y="218.547909" style="fill-opacity: 0; stroke: #8b0000"/>
     <use href="#mf0e050cbb3" x="319.392" y="217.968099" style="fill-opacity: 0; stroke: #8b0000"/>
     <use href="#mf0e050cbb3" x="320.28" y="218.326847" style="fill-opacity: 0; stroke: #8b0000"/>
     <use href="#mf0e050cbb3" x="321.168" y="219.061134" style="fill-opacity: 0; stroke: #8b0000"/>
     <use href="#mf0e050cbb3" x="322.056" y="220.193852" style="fill-opacity: 0; stroke: #8b0000"/>
     <use href="#mf0e050cbb3" x="322.944" y="223.092798" style="fill-opacity: 0; stroke: #8b0000"/>
     <use href="#mf0e050cbb3" x="323.832" y="226.483224" style="fill-opacity: 0; stroke: #8b0000"/>
     <use href="#mf0e050cbb3" x="324.72" y="228.255103" style="fill-opacity: 0; stroke: #8b0000"/>
     <use href="#mf0e050cbb3" x="325.608" y="229.579256" style="fill-opacity: 0; stroke: #8b0000"/>
     <use href="#mf0e050cbb3" x="326.496" y="228.623572" style="fill-opacity: 0; stroke: #8b0000"/>
     <use href="#mf0e050cbb3" x="327.384" y="227.708999" style="fill-opacity: 0; stroke: #8b0000"/>
     <use href="#mf0e050cbb3" x="328.272" y="226.854313" style="fill-opacity: 0; stroke: #8b0000"/>
     <use href="#mf0e050cbb3" x="329.16" y="225.641984" style="fill-opacity: 0; stroke: #8b0000"/>
     <use href="#mf0e050cbb3" x="330.048" y="224.82321" style="fill-opacity: 0; stroke: #8b0000"/>
     <use href="#mf0e050cbb3" x="330.936" y="225.232374" style="fill-opacity: 0; stroke: #8b0000"/>
     <use href="#mf0e050cbb3" x="331.824" y="225.754877" style="fill-opacity: 0; stroke: #8b0000"/>
     <use href="#mf0e050cbb3" x="332.712" y="225.852989" style="fill-opacity: 0; stroke: #8b0000"/>
     <use href="#mf0e050cbb3" x="333.6" y="225.845963" style="fill-opacity: 0; stroke: #8b0000"/>
     <use href="#mf0e050cbb3" x="334.488" y="224.624141" style="fill-opacity: 0; stroke: #8b0000"/>
     <use href="#mf0e050cbb3" x="335.376" y="226.576809" style="fill-opacity: 0; stroke: #8b0000"/>
     <use href="#mf0e050cbb3" x="336.264" y="229.738411" style="fill-opacity: 0; stroke: #8b0000"/>
     <use href="#mf0e050cbb3" x="337.152" y="229.860374" style="fill-opacity: 0; stroke: #8b0000"/>
     <use href="#mf0e050cbb3" x="338.04" y="230.122796" style="fill-opacity: 0; stroke: #8b0000"/>
     <use href="#mf0e050cbb3" x="338.928" y="229.80685" style="fill-opacity: 0; stroke: #8b0000"/>
     <use href="#mf0e050cbb3" x="339.816" y="229.36276" style="fill-opacity: 0; stroke: #8b0000"/>
     <use href="#mf0e050cbb3" x="340.704" y="229.185985" style="fill-opacity: 0; stroke: #8b0000"/>
     <use href="#mf0e050cbb3" x="341.592" y="225.447846" style="fill-opacity: 0; stroke: #8b0000"/>
     <use href="#mf0e050cbb3" x="342.48" y="222.49612" style="fill-opacity: 0; stroke: #8b0000"/>
     <use href="#mf0e050cbb3" x="343.368" y="221.551191" style="fill-opacity: 0; stroke: #8b0000"/>
     <use href="#mf0e050cbb3" x="344.256" y="220.727366" style="fill-opacity: 0; stroke: #8b0000"/>
     <use href="#mf0e050cbb3" x="345.144" y="219.693426" style="fill-opacity: 0; stroke: #8b0000"/>
     <use href="#mf0e050cbb3" x="346.032" y="218.90756" style="fill-opacity: 0; stroke: #8b0000"/>
     <use href="#mf0e050cbb3" x="346.92" y="218.569198" style="fill-opacity: 0; stroke: #8b0000"/>
     <use href="#mf0e050cbb3" x="347.808" y="218.058726" style="fill-opacity: 0; stroke: #8b0000"/>
     <use href="#mf0e050cbb3" x="348.696" y="217.108654" style="fill-opacity: 0; stroke: #8b0000"/>
     <use href="#mf0e050cbb3" x="349.584" y="216.550564" style="fill-opacity: 0; stroke: #8b0000"/>
     <use href="#mf0e050cbb3" x="350.472" y="215.21334" style="fill-opacity: 0; stroke: #8b0000"/>
     <use href="#mf0e050cbb3" x="351.36" y="214.903708" style="fill-opacity: 0; stroke: #8b0000"/>
     <use href="#mf0e050cbb3" x="352.248" y="216.679825" style="fill-opacity: 0; stroke: #8b0000"/>
     <use href="#mf0e050cbb3" x="353.136" y="218.546297" style="fill-opacity: 0; stroke: #8b0000"/>
     <use href="#mf0e050cbb3" x="354.024" y="220.419475" style="fill-opacity: 0; stroke: #8b0000"/>
     <use href="#mf0e050cbb3" x="354.912" y="215.537308" style="fill-opacity: 0; stroke: #8b0000"/>
     <use href="#mf0e050cbb3" x="355.8" y="199.718677" style="fill-opacity: 0; stroke: #8b0000"/>
     <use href="#mf0e050cbb3" x="356.688" y="197.071302" style="fill-opacity: 0; stroke: #8b0000"/>
     <use href="#mf0e050cbb3" x="357.576" y="196.253354" style="fill-opacity: 0; stroke: #8b0000"/>
     <use href="#mf0e050cbb3" x="358.464" y="200.066054" style="fill-opacity: 0; stroke: #8b0000"/>
     <use href="#mf0e050cbb3" x="359.352" y="207.143895" style="fill-opacity: 0; stroke: #8b0000"/>
     <use href="#mf0e050cbb3" x="360.24" y="213.67044" style="fill-opacity: 0; stroke: #8b0000"/>
     <use href="#mf0e050cbb3" x="361.128" y="216.25094" style="fill-opacity: 0; stroke: #8b0000"/>
     <use href="#mf0e050cbb3" x="362.016" y="214.279366" style="fill-opacity: 0; stroke: #8b0000"/>
     <use href="#mf0e050cbb3" x="362.904" y="213.334317" style="fill-opacity: 0; stroke: #8b0000"/>
     <use href="#mf0e050cbb3" x="363.792" y="214.413939" style="fill-opacity: 0; stroke: #8b0000"/>
     <use href="#mf0e050cbb3" x="364.68" y="217.195643" style="fill-opacity: 0; stroke: #8b0000"/>
     <use href="#mf0e050cbb3" x="365.568" y="220.871895" style="fill-opacity: 0; stroke: #8b0000"/>
     <use href="#mf0e050cbb3" x="366.456" y="222.586902" style="fill-opacity: 0; stroke: #8b0000"/>
     <use href="#mf0e050cbb3" x="367.344" y="223.188656" style="fill-opacity: 0; stroke: #8b0000"/>
     <use href="#mf0e050cbb3" x="368.232" y="223.400103" style="fill-opacity: 0; stroke: #8b0000"/>
     <use href="#mf0e050cbb3" x="369.12" y="224.650804" style="fill-opacity: 0; stroke: #8b0000"/>
     <use href="#mf0e050cbb3" x="370.008" y="225.19169" style="fill-opacity: 0; stroke: #8b0000"/>
     <use href="#mf0e050cbb3" x="370.896" y="226.023046" style="fill-opacity: 0; stroke: #8b0000"/>
     <use href="#mf0e050cbb3" x="371.784" y="225.830399" style="fill-opacity: 0; stroke: #8b0000"/>
     <use href="#mf0e050cbb3" x="372.672" y="226.256675" style="fill-opacity: 0; stroke: #8b0000"/>
    </g>
   </g>
   <g id="patch_7">
    <path d="M 56.52 250.92 
L 56.52 34.92 
" style="fill: none; stroke: #000000; stroke-width: 0.8; stroke-linejoin: miter; stroke-linecap: square"/>
   </g>
   <g id="patch_8">
    <path d="M 376.2 250.92 
L 376.2 34.92 
" style="fill: none; stroke: #000000; stroke-width: 0.8; stroke-linejoin: miter; stroke-linecap: square"/>
   </g>
   <g id="patch_9">
    <path d="M 56.52 250.92 
L 376.2 250.92 
" style="fill: none; stroke: #000000; stroke-width: 0.8; stroke-linejoin: miter; stroke-linecap: square"/>
   </g>
   <g id="patch_10">
    <path d="M 56.52 34.92 
L 376.2 34.92 
" style="fill: none; stroke: #000000; stroke-width: 0.8; stroke-linejoin: miter; stroke-linecap: square"/>
   </g>
  </g>
 </g>
 <defs>
  <clipPath id="p01f3dd01d7">
   <rect x="56.52" y="34.92" width="319.68" height="216"/>
  </clipPath>
 </defs>
</svg>

</body></html>
